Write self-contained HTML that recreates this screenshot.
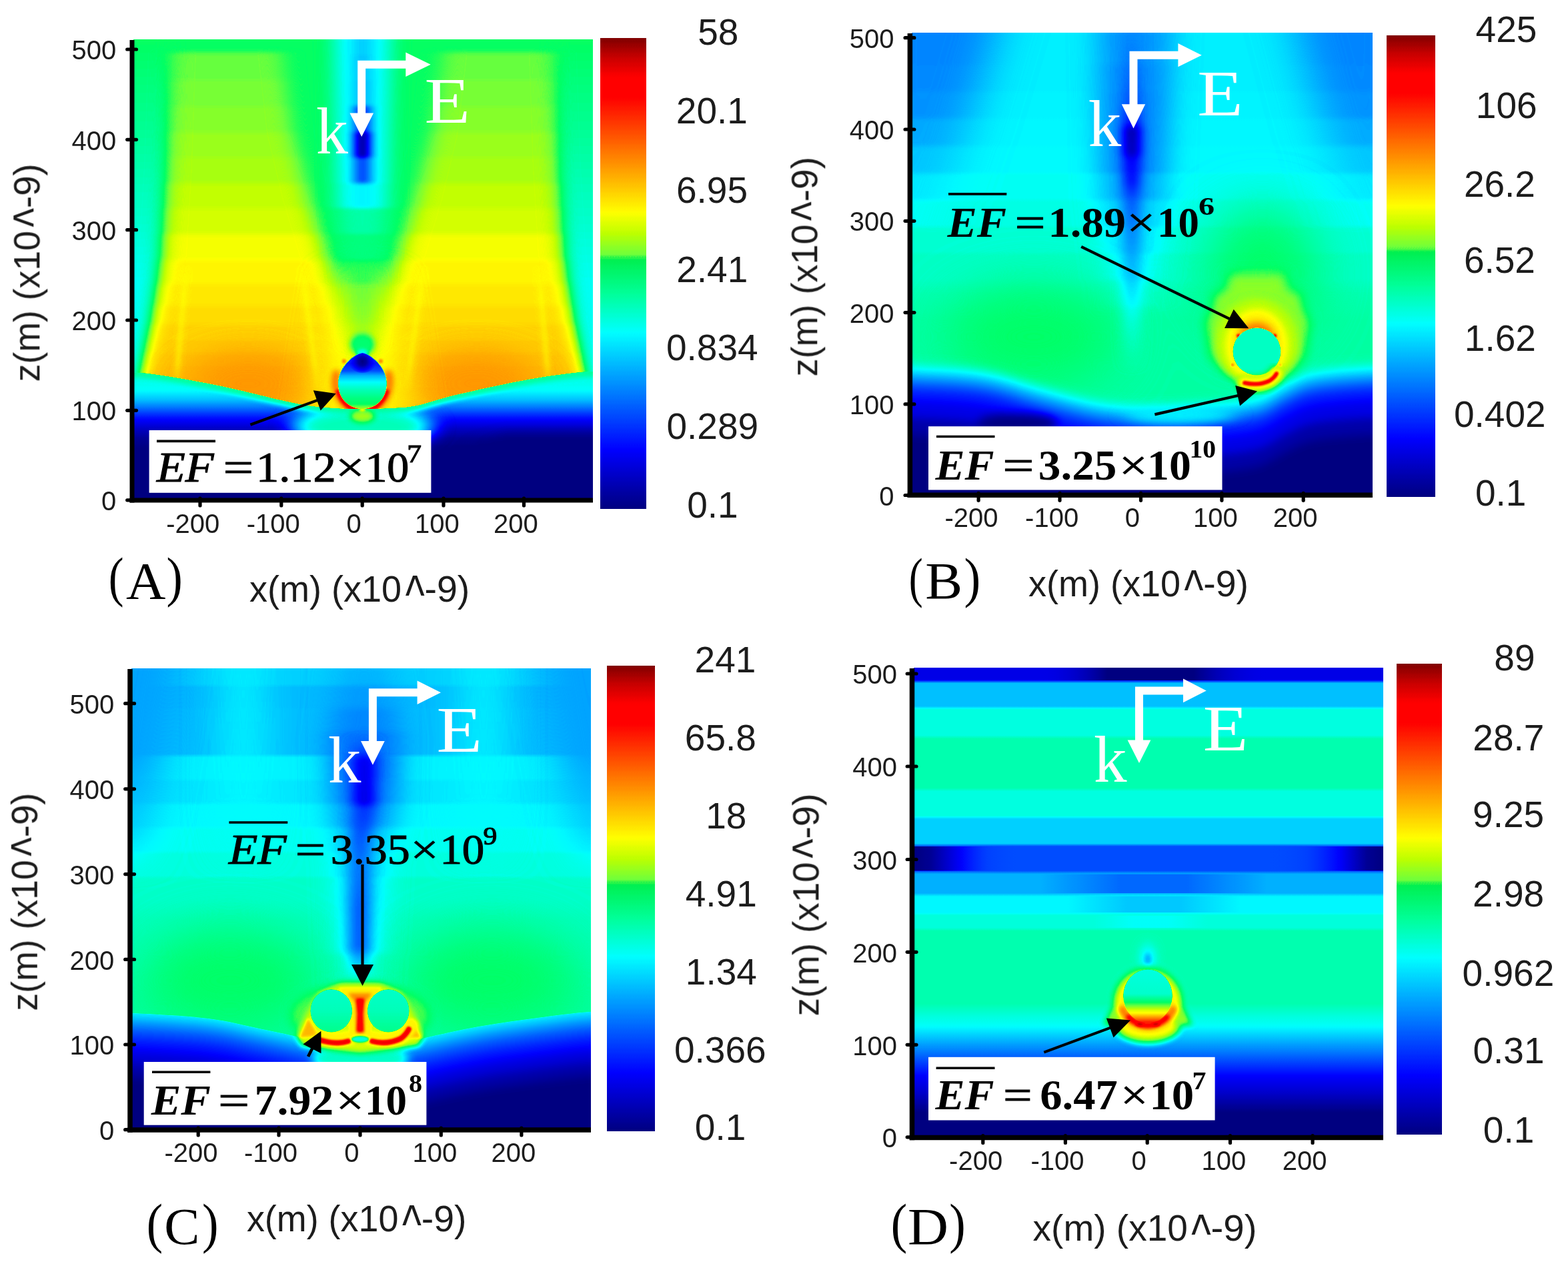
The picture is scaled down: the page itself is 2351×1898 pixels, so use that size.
<!DOCTYPE html>
<html lang="en"><head><meta charset="utf-8"><title>Electric field enhancement maps (A)-(D)</title>
<style>html,body{margin:0;padding:0;background:#fff;overflow:hidden}svg{display:block}</style></head><body>
<svg xmlns="http://www.w3.org/2000/svg" width="2351" height="1898" viewBox="0 0 2351 1898">
<defs>
<filter id="jetA" filterUnits="userSpaceOnUse" x="200.5" y="59" width="688.5" height="691.5" color-interpolation-filters="sRGB"><feComponentTransfer><feFuncR type="table" tableValues="0 0 0 0 0 0 0 0 0 0 0 0 0 0 0 0 0 0 0 0 0 0 0 0 0 0 0 0 0 0 0 0 0 0 0 0 0 0 0 0 0 0 0 0 0 0 0 0 0 0 0 0.108 0.216 0.324 0.431 0.501 0.571 0.641 0.71 0.773 0.83 0.887 0.943 1 1 1 1 1 1 1 1 1 1 1 1 1 1 1 1 1 1 1 1 1 1 1 1 1 1 1 1 1 0.99 0.938 0.887 0.836 0.784 0.714 0.643 0.573 0.502"/><feFuncG type="table" tableValues="0 0 0 0 0 0 0 0 0 0 0 0 0 0.02 0.06 0.1 0.141 0.181 0.221 0.261 0.301 0.341 0.381 0.422 0.462 0.502 0.542 0.582 0.621 0.661 0.701 0.741 0.781 0.821 0.861 0.9 0.94 0.98 1 1 1 1 1 1 1 1 1 1 1 1 1 1 1 1 1 1 1 1 1 1 1 1 1 1 0.958 0.917 0.875 0.834 0.792 0.751 0.709 0.668 0.626 0.585 0.543 0.502 0.462 0.422 0.381 0.341 0.301 0.261 0.221 0.181 0.141 0.1 0.06 0.02 0 0 0 0 0 0 0 0 0 0 0 0 0"/><feFuncB type="table" tableValues="0.502 0.542 0.582 0.621 0.661 0.701 0.741 0.781 0.821 0.861 0.9 0.94 0.98 1 1 1 1 1 1 1 1 1 1 1 1 1 1 1 1 1 1 1 1 1 1 1 1 1 0.976 0.927 0.879 0.83 0.782 0.734 0.685 0.637 0.588 0.539 0.49 0.441 0.392 0.353 0.314 0.275 0.235 0.183 0.131 0.078 0.026 0 0 0 0 0 0 0 0 0 0 0 0 0 0 0 0 0 0 0 0 0 0 0 0 0 0 0 0 0 0 0 0 0 0 0 0 0 0 0 0 0 0"/></feComponentTransfer></filter>
<clipPath id="clipA"><rect x="197.5" y="56" width="694.5" height="697.5"/></clipPath>
<linearGradient id="A0" gradientUnits="userSpaceOnUse" x1="0" y1="59" x2="0" y2="620"><stop offset="0" stop-color="#808080"/><stop offset="0.626" stop-color="#808080"/><stop offset="0.697" stop-color="#878787"/><stop offset="0.786" stop-color="#8f8f8f"/><stop offset="0.893" stop-color="#999999"/><stop offset="1" stop-color="#9e9e9e"/></linearGradient>
<linearGradient id="A1" gradientUnits="userSpaceOnUse" x1="0" y1="59" x2="0" y2="620"><stop offset="0" stop-color="#808080"/><stop offset="0.127" stop-color="#7a7a7a"/><stop offset="0.251" stop-color="#757575"/><stop offset="0.394" stop-color="#6e6e6e"/><stop offset="0.501" stop-color="#696969"/><stop offset="0.643" stop-color="#626262"/><stop offset="1" stop-color="#616161"/></linearGradient>
<filter id="b9_3" x="-100%" y="-100%" width="300%" height="300%" color-interpolation-filters="sRGB"><feGaussianBlur stdDeviation="9 3"/></filter>
<linearGradient id="A2" gradientUnits="userSpaceOnUse" x1="0" y1="61.5" x2="0" y2="637.5"><stop offset="0" stop-color="#888888"/><stop offset="0.031" stop-color="#888888"/><stop offset="0.04" stop-color="#898989"/><stop offset="0.097" stop-color="#898989"/><stop offset="0.106" stop-color="#8b8b8b"/><stop offset="0.165" stop-color="#8b8b8b"/><stop offset="0.174" stop-color="#8d8d8d"/><stop offset="0.233" stop-color="#8d8d8d"/><stop offset="0.241" stop-color="#909090"/><stop offset="0.299" stop-color="#909090"/><stop offset="0.307" stop-color="#929292"/><stop offset="0.366" stop-color="#929292"/><stop offset="0.375" stop-color="#969696"/><stop offset="0.431" stop-color="#969696"/><stop offset="0.439" stop-color="#999999"/><stop offset="0.498" stop-color="#999999"/><stop offset="0.507" stop-color="#9f9f9f"/><stop offset="0.566" stop-color="#9f9f9f"/><stop offset="0.575" stop-color="#a3a3a3"/><stop offset="0.628" stop-color="#a3a3a3"/><stop offset="0.637" stop-color="#a6a6a6"/><stop offset="0.684" stop-color="#a6a6a6"/><stop offset="0.693" stop-color="#a9a9a9"/><stop offset="0.733" stop-color="#a9a9a9"/><stop offset="0.741" stop-color="#acacac"/><stop offset="0.774" stop-color="#acacac"/><stop offset="0.783" stop-color="#adadad"/><stop offset="0.809" stop-color="#adadad"/><stop offset="0.818" stop-color="#afafaf"/><stop offset="0.84" stop-color="#afafaf"/><stop offset="0.849" stop-color="#b0b0b0"/><stop offset="0.868" stop-color="#b0b0b0"/><stop offset="0.877" stop-color="#b0b0b0"/><stop offset="0.896" stop-color="#b0b0b0"/><stop offset="0.905" stop-color="#b1b1b1"/><stop offset="0.931" stop-color="#b1b1b1"/><stop offset="0.939" stop-color="#b2b2b2"/><stop offset="1" stop-color="#b2b2b2"/></linearGradient>
<filter id="b15_3" x="-100%" y="-100%" width="300%" height="300%" color-interpolation-filters="sRGB"><feGaussianBlur stdDeviation="15 3"/></filter>
<filter id="b30_22" x="-100%" y="-100%" width="300%" height="300%" color-interpolation-filters="sRGB"><feGaussianBlur stdDeviation="30 22"/></filter>
<linearGradient id="A2v" gradientUnits="userSpaceOnUse" x1="0" y1="400" x2="0" y2="640"><stop offset="0" stop-color="#999999" stop-opacity="0.6"/><stop offset="0.417" stop-color="#9d9d9d" stop-opacity="0.8"/><stop offset="1" stop-color="#a1a1a1" stop-opacity="0.8"/></linearGradient>
<filter id="b24_14" x="-100%" y="-100%" width="300%" height="300%" color-interpolation-filters="sRGB"><feGaussianBlur stdDeviation="24 14"/></filter>
<linearGradient id="A2c" gradientUnits="userSpaceOnUse" x1="0" y1="380" x2="0" y2="530"><stop offset="0" stop-color="#828282" stop-opacity="0"/><stop offset="0.2" stop-color="#858585" stop-opacity="0.85"/><stop offset="0.667" stop-color="#8b8b8b" stop-opacity="0.85"/><stop offset="1" stop-color="#8f8f8f" stop-opacity="0"/></linearGradient>
<filter id="b13_6" x="-100%" y="-100%" width="300%" height="300%" color-interpolation-filters="sRGB"><feGaussianBlur stdDeviation="13 6"/></filter>
<linearGradient id="A2s" gradientUnits="userSpaceOnUse" x1="0" y1="400" x2="0" y2="585"><stop offset="0" stop-color="#9f9f9f" stop-opacity="0"/><stop offset="0.216" stop-color="#9f9f9f" stop-opacity="0.8"/><stop offset="0.784" stop-color="#a1a1a1" stop-opacity="0.8"/><stop offset="1" stop-color="#a1a1a1" stop-opacity="0"/></linearGradient>
<filter id="b3p5_2" x="-100%" y="-100%" width="300%" height="300%" color-interpolation-filters="sRGB"><feGaussianBlur stdDeviation="3.5 2"/></filter>
<linearGradient id="A3" gradientUnits="userSpaceOnUse" x1="0" y1="61.5" x2="0" y2="637.5"><stop offset="0" stop-color="#5d5d5d" stop-opacity="1"/><stop offset="0.031" stop-color="#5d5d5d" stop-opacity="1"/><stop offset="0.04" stop-color="#5d5d5d" stop-opacity="1"/><stop offset="0.097" stop-color="#5d5d5d" stop-opacity="1"/><stop offset="0.106" stop-color="#5d5d5d" stop-opacity="1"/><stop offset="0.165" stop-color="#5d5d5d" stop-opacity="1"/><stop offset="0.174" stop-color="#5d5d5d" stop-opacity="1"/><stop offset="0.233" stop-color="#5d5d5d" stop-opacity="1"/><stop offset="0.241" stop-color="#5d5d5d" stop-opacity="1"/><stop offset="0.299" stop-color="#5d5d5d" stop-opacity="1"/><stop offset="0.307" stop-color="#5d5d5d" stop-opacity="1"/><stop offset="0.366" stop-color="#5d5d5d" stop-opacity="1"/><stop offset="0.375" stop-color="#606060" stop-opacity="1"/><stop offset="0.431" stop-color="#606060" stop-opacity="1"/><stop offset="0.439" stop-color="#6f6f6f" stop-opacity="0.843"/><stop offset="0.498" stop-color="#6f6f6f" stop-opacity="0.843"/><stop offset="0.507" stop-color="#767676" stop-opacity="0.617"/><stop offset="0.566" stop-color="#767676" stop-opacity="0.617"/><stop offset="0.575" stop-color="#7b7b7b" stop-opacity="0.275"/><stop offset="0.628" stop-color="#7b7b7b" stop-opacity="0.275"/><stop offset="0.637" stop-color="#808080" stop-opacity="0"/><stop offset="0.684" stop-color="#808080" stop-opacity="0"/><stop offset="0.693" stop-color="#808080" stop-opacity="0"/><stop offset="0.733" stop-color="#808080" stop-opacity="0"/><stop offset="0.741" stop-color="#808080" stop-opacity="0"/><stop offset="0.774" stop-color="#808080" stop-opacity="0"/><stop offset="0.783" stop-color="#808080" stop-opacity="0"/><stop offset="0.809" stop-color="#808080" stop-opacity="0"/><stop offset="0.818" stop-color="#808080" stop-opacity="0"/><stop offset="0.84" stop-color="#808080" stop-opacity="0"/><stop offset="0.849" stop-color="#808080" stop-opacity="0"/><stop offset="0.868" stop-color="#808080" stop-opacity="0"/><stop offset="0.877" stop-color="#808080" stop-opacity="0"/><stop offset="0.896" stop-color="#808080" stop-opacity="0"/><stop offset="0.905" stop-color="#808080" stop-opacity="0"/><stop offset="0.931" stop-color="#808080" stop-opacity="0"/><stop offset="0.939" stop-color="#808080" stop-opacity="0"/><stop offset="1" stop-color="#808080" stop-opacity="0"/></linearGradient>
<filter id="b14_2" x="-100%" y="-100%" width="300%" height="300%" color-interpolation-filters="sRGB"><feGaussianBlur stdDeviation="14 2"/></filter>
<linearGradient id="A4" gradientUnits="userSpaceOnUse" x1="0" y1="62" x2="0" y2="348"><stop offset="0" stop-color="#535353" stop-opacity="1"/><stop offset="0.059" stop-color="#535353" stop-opacity="1"/><stop offset="0.08" stop-color="#505050" stop-opacity="1"/><stop offset="0.192" stop-color="#505050" stop-opacity="1"/><stop offset="0.213" stop-color="#4d4d4d" stop-opacity="1"/><stop offset="0.329" stop-color="#4d4d4d" stop-opacity="1"/><stop offset="0.35" stop-color="#242424" stop-opacity="1"/><stop offset="0.465" stop-color="#242424" stop-opacity="1"/><stop offset="0.486" stop-color="#000000" stop-opacity="1"/><stop offset="0.598" stop-color="#000000" stop-opacity="1"/><stop offset="0.619" stop-color="#2e2e2e" stop-opacity="1"/><stop offset="0.734" stop-color="#2e2e2e" stop-opacity="1"/><stop offset="0.755" stop-color="#5d5d5d" stop-opacity="0.839"/><stop offset="0.864" stop-color="#5d5d5d" stop-opacity="0.839"/><stop offset="0.885" stop-color="#707070" stop-opacity="0"/><stop offset="1" stop-color="#707070" stop-opacity="0"/></linearGradient>
<filter id="b8_2" x="-100%" y="-100%" width="300%" height="300%" color-interpolation-filters="sRGB"><feGaussianBlur stdDeviation="8 2"/></filter>
<filter id="b4p5_4p5" x="-100%" y="-100%" width="300%" height="300%" color-interpolation-filters="sRGB"><feGaussianBlur stdDeviation="4.5 4.5"/></filter>
<filter id="b2p2_2p2" x="-100%" y="-100%" width="300%" height="300%" color-interpolation-filters="sRGB"><feGaussianBlur stdDeviation="2.2 2.2"/></filter>
<filter id="b1p8_1p8" x="-100%" y="-100%" width="300%" height="300%" color-interpolation-filters="sRGB"><feGaussianBlur stdDeviation="1.8 1.8"/></filter>
<clipPath id="cAs"><path d="M150,559 C161.3,559.1 188.8,556.7 218,559.8 C247.2,562.9 290.8,570.9 325,577.7 C359.2,584.5 400,595.4 423,600.5 C446,605.6 450.2,606.6 463,608.6 C475.8,610.6 486.6,611.5 500,612.3 C513.4,613.1 528.9,613.4 543.4,613.4 C557.9,613.4 573.6,613.1 587,612.3 C600.4,611.5 607.9,611.9 624,608.6 C640.1,605.3 657.2,598.5 683.4,592.3 C709.6,586.1 749.6,576.9 781,571.2 C812.4,565.5 845.5,560.5 872,558.1 C898.5,555.7 928.7,557.2 940,557 L940,800 L150,800 Z"/></clipPath>
<linearGradient id="A7" gradientUnits="userSpaceOnUse" x1="0" y1="555" x2="0" y2="800"><stop offset="0" stop-color="#696969"/><stop offset="0.122" stop-color="#606060"/><stop offset="0.184" stop-color="#4f4f4f"/><stop offset="0.233" stop-color="#3b3b3b"/><stop offset="0.29" stop-color="#242424"/><stop offset="0.355" stop-color="#121212"/><stop offset="0.42" stop-color="#050505"/><stop offset="0.478" stop-color="#000000"/><stop offset="1" stop-color="#000000"/></linearGradient>
<filter id="b16_10" x="-100%" y="-100%" width="300%" height="300%" color-interpolation-filters="sRGB"><feGaussianBlur stdDeviation="16 10"/></filter>
<filter id="b3p5_3p5" x="-100%" y="-100%" width="300%" height="300%" color-interpolation-filters="sRGB"><feGaussianBlur stdDeviation="3.5 3.5"/></filter>
<filter id="b9_9" x="-100%" y="-100%" width="300%" height="300%" color-interpolation-filters="sRGB"><feGaussianBlur stdDeviation="9 9"/></filter>
<filter id="b4_4" x="-100%" y="-100%" width="300%" height="300%" color-interpolation-filters="sRGB"><feGaussianBlur stdDeviation="4 4"/></filter>
<filter id="b1p5_1p5" x="-100%" y="-100%" width="300%" height="300%" color-interpolation-filters="sRGB"><feGaussianBlur stdDeviation="1.5 1.5"/></filter>
<filter id="b2p5_2p5" x="-100%" y="-100%" width="300%" height="300%" color-interpolation-filters="sRGB"><feGaussianBlur stdDeviation="2.5 2.5"/></filter>
<linearGradient id="A5" gradientUnits="userSpaceOnUse" x1="0" y1="530" x2="0" y2="611"><stop offset="0" stop-color="#333333"/><stop offset="0.185" stop-color="#262626"/><stop offset="0.321" stop-color="#333333"/><stop offset="0.407" stop-color="#4c4c4c"/><stop offset="0.531" stop-color="#606060"/><stop offset="0.667" stop-color="#6e6e6e"/><stop offset="0.827" stop-color="#7a7a7a"/><stop offset="0.938" stop-color="#808080"/><stop offset="1" stop-color="#8c8c8c"/></linearGradient>
<radialGradient id="A6" gradientUnits="userSpaceOnUse" cx="543.4" cy="542" r="21"><stop offset="0" stop-color="#000000" stop-opacity="1"/><stop offset="0.3" stop-color="#050505" stop-opacity="0.9"/><stop offset="1" stop-color="#1a1a1a" stop-opacity="0"/></radialGradient>
<clipPath id="cAegg"><path d="M543.4,529.3 C556.4,531 579.8,551 579.8,575 C579.8,597 564.4,612.8 543.4,612.8 C522.4,612.8 507,597 507,575 C507,551 530.4,531 543.4,529.3 Z"/></clipPath>
<linearGradient id="cbgA" gradientUnits="userSpaceOnUse" x1="0" y1="57.6" x2="0" y2="762.7"><stop offset="0" stop-color="#ffffff"/><stop offset="1" stop-color="#000000"/></linearGradient>
<filter id="jetcbA" filterUnits="userSpaceOnUse" x="900.7" y="57.6" width="68.3" height="705.1" color-interpolation-filters="sRGB"><feComponentTransfer><feFuncR type="table" tableValues="0 0 0 0 0 0 0 0 0 0 0 0 0 0 0 0 0 0 0 0 0 0 0 0 0 0 0 0 0 0 0 0 0 0 0 0 0 0 0 0 0 0 0 0 0 0 0 0 0 0 0 0 0 0 0 0 0 0 0 0 0 0 0 0 0 0 0 0 0 0 0 0 0 0 0 0 0 0 0 0 0 0 0 0 0 0 0 0 0 0 0 0 0 0 0 0 0 0 0 0 0 0 0 0 0 0 0 0.216 0.431 0.466 0.501 0.536 0.571 0.606 0.641 0.675 0.71 0.745 0.773 0.802 0.83 0.858 0.887 0.915 0.943 0.972 1 1 1 1 1 1 1 1 1 1 1 1 1 1 1 1 1 1 1 1 1 1 1 1 1 1 1 1 1 1 1 1 1 1 1 1 1 1 1 1 1 1 1 1 1 1 1 1 1 1 1 1 1 1 1 1 1 1 0.99 0.964 0.938 0.913 0.887 0.861 0.836 0.81 0.784 0.749 0.714 0.678 0.643 0.608 0.573 0.537 0.502"/><feFuncG type="table" tableValues="0 0 0 0 0 0 0 0 0 0 0 0 0 0 0 0 0 0 0 0 0 0 0 0 0 0 0.02 0.04 0.06 0.08 0.1 0.12 0.141 0.161 0.181 0.201 0.221 0.241 0.261 0.281 0.301 0.321 0.341 0.361 0.381 0.402 0.422 0.442 0.462 0.482 0.502 0.522 0.542 0.562 0.582 0.602 0.621 0.641 0.661 0.681 0.701 0.721 0.741 0.761 0.781 0.801 0.821 0.841 0.861 0.88 0.9 0.92 0.94 0.96 0.98 1 1 1 1 1 1 1 1 1 1 1 1 1 1 1 1 1 1 0.996 0.992 0.987 0.983 0.979 0.975 0.971 0.966 0.962 0.958 0.954 0.95 0.945 0.941 0.971 1 1 1 1 1 1 1 1 1 1 1 1 1 1 1 1 1 1 1 0.979 0.958 0.938 0.917 0.896 0.875 0.855 0.834 0.813 0.792 0.772 0.751 0.73 0.709 0.689 0.668 0.647 0.626 0.606 0.585 0.564 0.543 0.523 0.502 0.482 0.462 0.442 0.422 0.402 0.381 0.361 0.341 0.321 0.301 0.281 0.261 0.241 0.221 0.201 0.181 0.161 0.141 0.12 0.1 0.08 0.06 0.04 0.02 0 0 0 0 0 0 0 0 0 0 0 0 0 0 0 0 0 0 0 0 0 0 0 0 0 0"/><feFuncB type="table" tableValues="0.502 0.522 0.542 0.562 0.582 0.602 0.621 0.641 0.661 0.681 0.701 0.721 0.741 0.761 0.781 0.801 0.821 0.841 0.861 0.88 0.9 0.92 0.94 0.96 0.98 1 1 1 1 1 1 1 1 1 1 1 1 1 1 1 1 1 1 1 1 1 1 1 1 1 1 1 1 1 1 1 1 1 1 1 1 1 1 1 1 1 1 1 1 1 1 1 1 1 1 1 0.976 0.952 0.927 0.903 0.879 0.855 0.83 0.806 0.782 0.758 0.734 0.709 0.685 0.661 0.637 0.612 0.588 0.569 0.549 0.529 0.51 0.49 0.471 0.451 0.431 0.412 0.392 0.373 0.353 0.333 0.314 0.275 0.235 0.209 0.183 0.157 0.131 0.105 0.078 0.052 0.026 0 0 0 0 0 0 0 0 0 0 0 0 0 0 0 0 0 0 0 0 0 0 0 0 0 0 0 0 0 0 0 0 0 0 0 0 0 0 0 0 0 0 0 0 0 0 0 0 0 0 0 0 0 0 0 0 0 0 0 0 0 0 0 0 0 0 0 0 0 0 0 0 0 0 0 0 0 0 0 0 0 0 0 0"/></feComponentTransfer></filter>
<filter id="jetB" filterUnits="userSpaceOnUse" x="1367.5" y="49" width="690.5" height="694" color-interpolation-filters="sRGB"><feComponentTransfer><feFuncR type="table" tableValues="0 0 0 0 0 0 0 0 0 0 0 0 0 0 0 0 0 0 0 0 0 0 0 0 0 0 0 0 0 0 0 0 0 0 0 0 0 0 0 0 0 0 0 0 0 0 0 0 0 0 0 0.108 0.216 0.324 0.431 0.501 0.571 0.641 0.71 0.773 0.83 0.887 0.943 1 1 1 1 1 1 1 1 1 1 1 1 1 1 1 1 1 1 1 1 1 1 1 1 1 1 1 1 1 0.99 0.938 0.887 0.836 0.784 0.714 0.643 0.573 0.502"/><feFuncG type="table" tableValues="0 0 0 0 0 0 0 0 0 0 0 0 0 0.02 0.06 0.1 0.141 0.181 0.221 0.261 0.301 0.341 0.381 0.422 0.462 0.502 0.542 0.582 0.621 0.661 0.701 0.741 0.781 0.821 0.861 0.9 0.94 0.98 1 1 1 1 1 1 1 1 1 1 1 1 1 1 1 1 1 1 1 1 1 1 1 1 1 1 0.958 0.917 0.875 0.834 0.792 0.751 0.709 0.668 0.626 0.585 0.543 0.502 0.462 0.422 0.381 0.341 0.301 0.261 0.221 0.181 0.141 0.1 0.06 0.02 0 0 0 0 0 0 0 0 0 0 0 0 0"/><feFuncB type="table" tableValues="0.502 0.542 0.582 0.621 0.661 0.701 0.741 0.781 0.821 0.861 0.9 0.94 0.98 1 1 1 1 1 1 1 1 1 1 1 1 1 1 1 1 1 1 1 1 1 1 1 1 1 0.976 0.927 0.879 0.83 0.782 0.734 0.685 0.637 0.588 0.539 0.49 0.441 0.392 0.353 0.314 0.275 0.235 0.183 0.131 0.078 0.026 0 0 0 0 0 0 0 0 0 0 0 0 0 0 0 0 0 0 0 0 0 0 0 0 0 0 0 0 0 0 0 0 0 0 0 0 0 0 0 0 0 0"/></feComponentTransfer></filter>
<clipPath id="clipB"><rect x="1364.5" y="46" width="696.5" height="700"/></clipPath>
<linearGradient id="B0" gradientUnits="userSpaceOnUse" x1="0" y1="52" x2="0" y2="760"><stop offset="0" stop-color="#5c5c5c"/><stop offset="0.059" stop-color="#5c5c5c"/><stop offset="0.068" stop-color="#5c5c5c"/><stop offset="0.116" stop-color="#5c5c5c"/><stop offset="0.124" stop-color="#5d5d5d"/><stop offset="0.174" stop-color="#5d5d5d"/><stop offset="0.182" stop-color="#5e5e5e"/><stop offset="0.232" stop-color="#5e5e5e"/><stop offset="0.24" stop-color="#5f5f5f"/><stop offset="0.29" stop-color="#5f5f5f"/><stop offset="0.298" stop-color="#626262"/><stop offset="0.346" stop-color="#626262"/><stop offset="0.355" stop-color="#656565"/><stop offset="0.403" stop-color="#656565"/><stop offset="0.411" stop-color="#696969"/><stop offset="0.459" stop-color="#696969"/><stop offset="0.468" stop-color="#6c6c6c"/><stop offset="0.516" stop-color="#6c6c6c"/><stop offset="0.548" stop-color="#707070"/><stop offset="0.605" stop-color="#737373"/><stop offset="1" stop-color="#737373"/></linearGradient>
<linearGradient id="B1" gradientUnits="userSpaceOnUse" x1="0" y1="23" x2="0" y2="377"><stop offset="0" stop-color="#404040" stop-opacity="1"/><stop offset="0.065" stop-color="#404040" stop-opacity="1"/><stop offset="0.082" stop-color="#414141" stop-opacity="1"/><stop offset="0.201" stop-color="#414141" stop-opacity="1"/><stop offset="0.218" stop-color="#424242" stop-opacity="1"/><stop offset="0.314" stop-color="#424242" stop-opacity="1"/><stop offset="0.331" stop-color="#444444" stop-opacity="0.967"/><stop offset="0.429" stop-color="#444444" stop-opacity="0.967"/><stop offset="0.446" stop-color="#484848" stop-opacity="0.89"/><stop offset="0.545" stop-color="#484848" stop-opacity="0.89"/><stop offset="0.562" stop-color="#4d4d4d" stop-opacity="0.752"/><stop offset="0.661" stop-color="#4d4d4d" stop-opacity="0.752"/><stop offset="0.678" stop-color="#535353" stop-opacity="0.55"/><stop offset="0.774" stop-color="#535353" stop-opacity="0.55"/><stop offset="0.791" stop-color="#585858" stop-opacity="0.25"/><stop offset="0.887" stop-color="#585858" stop-opacity="0.25"/><stop offset="0.904" stop-color="#5c5c5c" stop-opacity="0"/><stop offset="1" stop-color="#5c5c5c" stop-opacity="0"/></linearGradient>
<filter id="b34_3" x="-100%" y="-100%" width="300%" height="300%" color-interpolation-filters="sRGB"><feGaussianBlur stdDeviation="34 3"/></filter>
<linearGradient id="B1c" gradientUnits="userSpaceOnUse" x1="0" y1="23" x2="0" y2="497"><stop offset="0" stop-color="#454545" stop-opacity="0.904"/><stop offset="0.049" stop-color="#454545" stop-opacity="0.904"/><stop offset="0.061" stop-color="#444444" stop-opacity="0.939"/><stop offset="0.15" stop-color="#444444" stop-opacity="0.939"/><stop offset="0.162" stop-color="#434343" stop-opacity="0.979"/><stop offset="0.234" stop-color="#434343" stop-opacity="0.979"/><stop offset="0.247" stop-color="#424242" stop-opacity="1"/><stop offset="0.321" stop-color="#424242" stop-opacity="1"/><stop offset="0.333" stop-color="#424242" stop-opacity="1"/><stop offset="0.407" stop-color="#424242" stop-opacity="1"/><stop offset="0.42" stop-color="#424242" stop-opacity="1"/><stop offset="0.494" stop-color="#424242" stop-opacity="1"/><stop offset="0.506" stop-color="#484848" stop-opacity="0.94"/><stop offset="0.578" stop-color="#484848" stop-opacity="0.94"/><stop offset="0.591" stop-color="#4f4f4f" stop-opacity="0.84"/><stop offset="0.662" stop-color="#4f4f4f" stop-opacity="0.84"/><stop offset="0.675" stop-color="#535353" stop-opacity="0.72"/><stop offset="0.747" stop-color="#535353" stop-opacity="0.72"/><stop offset="0.759" stop-color="#575757" stop-opacity="0.6"/><stop offset="0.831" stop-color="#575757" stop-opacity="0.6"/><stop offset="0.844" stop-color="#5c5c5c" stop-opacity="0.3"/><stop offset="0.916" stop-color="#5c5c5c" stop-opacity="0.3"/><stop offset="0.928" stop-color="#616161" stop-opacity="0"/><stop offset="1" stop-color="#616161" stop-opacity="0"/></linearGradient>
<filter id="b20_3" x="-100%" y="-100%" width="300%" height="300%" color-interpolation-filters="sRGB"><feGaussianBlur stdDeviation="20 3"/></filter>
<filter id="b38_38" x="-100%" y="-100%" width="300%" height="300%" color-interpolation-filters="sRGB"><feGaussianBlur stdDeviation="38 38"/></filter>
<linearGradient id="B2" gradientUnits="userSpaceOnUse" x1="0" y1="40" x2="0" y2="560"><stop offset="0" stop-color="#404040" stop-opacity="0.5"/><stop offset="0.212" stop-color="#333333" stop-opacity="1"/><stop offset="0.275" stop-color="#1f1f1f" stop-opacity="1"/><stop offset="0.3" stop-color="#050505" stop-opacity="1"/><stop offset="0.362" stop-color="#080808" stop-opacity="1"/><stop offset="0.385" stop-color="#1a1a1a" stop-opacity="1"/><stop offset="0.446" stop-color="#1f1f1f" stop-opacity="1"/><stop offset="0.5" stop-color="#333333" stop-opacity="1"/><stop offset="0.712" stop-color="#4c4c4c" stop-opacity="0.9"/><stop offset="1" stop-color="#616161" stop-opacity="0"/></linearGradient>
<filter id="b7_7" x="-100%" y="-100%" width="300%" height="300%" color-interpolation-filters="sRGB"><feGaussianBlur stdDeviation="7 7"/></filter>
<filter id="b14_7" x="-100%" y="-100%" width="300%" height="300%" color-interpolation-filters="sRGB"><feGaussianBlur stdDeviation="14 7"/></filter>
<filter id="b8p5_8p5" x="-100%" y="-100%" width="300%" height="300%" color-interpolation-filters="sRGB"><feGaussianBlur stdDeviation="8.5 8.5"/></filter>
<filter id="b6_6" x="-100%" y="-100%" width="300%" height="300%" color-interpolation-filters="sRGB"><feGaussianBlur stdDeviation="6 6"/></filter>
<filter id="b5_5" x="-100%" y="-100%" width="300%" height="300%" color-interpolation-filters="sRGB"><feGaussianBlur stdDeviation="5 5"/></filter>
<filter id="b1p6_1p6" x="-100%" y="-100%" width="300%" height="300%" color-interpolation-filters="sRGB"><feGaussianBlur stdDeviation="1.6 1.6"/></filter>
<filter id="b3_3" x="-100%" y="-100%" width="300%" height="300%" color-interpolation-filters="sRGB"><feGaussianBlur stdDeviation="3 3"/></filter>
<filter id="b1p7_1p7" x="-100%" y="-100%" width="300%" height="300%" color-interpolation-filters="sRGB"><feGaussianBlur stdDeviation="1.7 1.7"/></filter>
<linearGradient id="cbgB" gradientUnits="userSpaceOnUse" x1="0" y1="53" x2="0" y2="744.2"><stop offset="0" stop-color="#ffffff"/><stop offset="1" stop-color="#000000"/></linearGradient>
<filter id="jetcbB" filterUnits="userSpaceOnUse" x="2079" y="53" width="72.7" height="691.2" color-interpolation-filters="sRGB"><feComponentTransfer><feFuncR type="table" tableValues="0 0 0 0 0 0 0 0 0 0 0 0 0 0 0 0 0 0 0 0 0 0 0 0 0 0 0 0 0 0 0 0 0 0 0 0 0 0 0 0 0 0 0 0 0 0 0 0 0 0 0 0 0 0 0 0 0 0 0 0 0 0 0 0 0 0 0 0 0 0 0 0 0 0 0 0 0 0 0 0 0 0 0 0 0 0 0 0 0 0 0 0 0 0 0 0 0 0 0 0 0 0 0 0 0 0 0 0.216 0.431 0.466 0.501 0.536 0.571 0.606 0.641 0.675 0.71 0.745 0.773 0.802 0.83 0.858 0.887 0.915 0.943 0.972 1 1 1 1 1 1 1 1 1 1 1 1 1 1 1 1 1 1 1 1 1 1 1 1 1 1 1 1 1 1 1 1 1 1 1 1 1 1 1 1 1 1 1 1 1 1 1 1 1 1 1 1 1 1 1 1 1 1 0.99 0.964 0.938 0.913 0.887 0.861 0.836 0.81 0.784 0.749 0.714 0.678 0.643 0.608 0.573 0.537 0.502"/><feFuncG type="table" tableValues="0 0 0 0 0 0 0 0 0 0 0 0 0 0 0 0 0 0 0 0 0 0 0 0 0 0 0.02 0.04 0.06 0.08 0.1 0.12 0.141 0.161 0.181 0.201 0.221 0.241 0.261 0.281 0.301 0.321 0.341 0.361 0.381 0.402 0.422 0.442 0.462 0.482 0.502 0.522 0.542 0.562 0.582 0.602 0.621 0.641 0.661 0.681 0.701 0.721 0.741 0.761 0.781 0.801 0.821 0.841 0.861 0.88 0.9 0.92 0.94 0.96 0.98 1 1 1 1 1 1 1 1 1 1 1 1 1 1 1 1 1 1 0.996 0.992 0.987 0.983 0.979 0.975 0.971 0.966 0.962 0.958 0.954 0.95 0.945 0.941 0.971 1 1 1 1 1 1 1 1 1 1 1 1 1 1 1 1 1 1 1 0.979 0.958 0.938 0.917 0.896 0.875 0.855 0.834 0.813 0.792 0.772 0.751 0.73 0.709 0.689 0.668 0.647 0.626 0.606 0.585 0.564 0.543 0.523 0.502 0.482 0.462 0.442 0.422 0.402 0.381 0.361 0.341 0.321 0.301 0.281 0.261 0.241 0.221 0.201 0.181 0.161 0.141 0.12 0.1 0.08 0.06 0.04 0.02 0 0 0 0 0 0 0 0 0 0 0 0 0 0 0 0 0 0 0 0 0 0 0 0 0 0"/><feFuncB type="table" tableValues="0.502 0.522 0.542 0.562 0.582 0.602 0.621 0.641 0.661 0.681 0.701 0.721 0.741 0.761 0.781 0.801 0.821 0.841 0.861 0.88 0.9 0.92 0.94 0.96 0.98 1 1 1 1 1 1 1 1 1 1 1 1 1 1 1 1 1 1 1 1 1 1 1 1 1 1 1 1 1 1 1 1 1 1 1 1 1 1 1 1 1 1 1 1 1 1 1 1 1 1 1 0.976 0.952 0.927 0.903 0.879 0.855 0.83 0.806 0.782 0.758 0.734 0.709 0.685 0.661 0.637 0.612 0.588 0.569 0.549 0.529 0.51 0.49 0.471 0.451 0.431 0.412 0.392 0.373 0.353 0.333 0.314 0.275 0.235 0.209 0.183 0.157 0.131 0.105 0.078 0.052 0.026 0 0 0 0 0 0 0 0 0 0 0 0 0 0 0 0 0 0 0 0 0 0 0 0 0 0 0 0 0 0 0 0 0 0 0 0 0 0 0 0 0 0 0 0 0 0 0 0 0 0 0 0 0 0 0 0 0 0 0 0 0 0 0 0 0 0 0 0 0 0 0 0 0 0 0 0 0 0 0 0 0 0 0 0"/></feComponentTransfer></filter>
<filter id="jetC" filterUnits="userSpaceOnUse" x="197.5" y="1002" width="688.5" height="692.5" color-interpolation-filters="sRGB"><feComponentTransfer><feFuncR type="table" tableValues="0 0 0 0 0 0 0 0 0 0 0 0 0 0 0 0 0 0 0 0 0 0 0 0 0 0 0 0 0 0 0 0 0 0 0 0 0 0 0 0 0 0 0 0 0 0 0 0 0 0 0 0.108 0.216 0.324 0.431 0.501 0.571 0.641 0.71 0.773 0.83 0.887 0.943 1 1 1 1 1 1 1 1 1 1 1 1 1 1 1 1 1 1 1 1 1 1 1 1 1 1 1 1 1 0.99 0.938 0.887 0.836 0.784 0.714 0.643 0.573 0.502"/><feFuncG type="table" tableValues="0 0 0 0 0 0 0 0 0 0 0 0 0 0.02 0.06 0.1 0.141 0.181 0.221 0.261 0.301 0.341 0.381 0.422 0.462 0.502 0.542 0.582 0.621 0.661 0.701 0.741 0.781 0.821 0.861 0.9 0.94 0.98 1 1 1 1 1 1 1 1 1 1 1 1 1 1 1 1 1 1 1 1 1 1 1 1 1 1 0.958 0.917 0.875 0.834 0.792 0.751 0.709 0.668 0.626 0.585 0.543 0.502 0.462 0.422 0.381 0.341 0.301 0.261 0.221 0.181 0.141 0.1 0.06 0.02 0 0 0 0 0 0 0 0 0 0 0 0 0"/><feFuncB type="table" tableValues="0.502 0.542 0.582 0.621 0.661 0.701 0.741 0.781 0.821 0.861 0.9 0.94 0.98 1 1 1 1 1 1 1 1 1 1 1 1 1 1 1 1 1 1 1 1 1 1 1 1 1 0.976 0.927 0.879 0.83 0.782 0.734 0.685 0.637 0.588 0.539 0.49 0.441 0.392 0.353 0.314 0.275 0.235 0.183 0.131 0.078 0.026 0 0 0 0 0 0 0 0 0 0 0 0 0 0 0 0 0 0 0 0 0 0 0 0 0 0 0 0 0 0 0 0 0 0 0 0 0 0 0 0 0 0"/></feComponentTransfer></filter>
<clipPath id="clipC"><rect x="194.5" y="999" width="694.5" height="698.5"/></clipPath>
<linearGradient id="C0" gradientUnits="userSpaceOnUse" x1="0" y1="1005" x2="0" y2="1700"><stop offset="0" stop-color="#545454"/><stop offset="0.029" stop-color="#545454"/><stop offset="0.037" stop-color="#4f4f4f"/><stop offset="0.078" stop-color="#4f4f4f"/><stop offset="0.086" stop-color="#505050"/><stop offset="0.128" stop-color="#505050"/><stop offset="0.137" stop-color="#505050"/><stop offset="0.18" stop-color="#505050"/><stop offset="0.188" stop-color="#5d5d5d"/><stop offset="0.232" stop-color="#5d5d5d"/><stop offset="0.24" stop-color="#5a5a5a"/><stop offset="0.283" stop-color="#5a5a5a"/><stop offset="0.292" stop-color="#5f5f5f"/><stop offset="0.335" stop-color="#5f5f5f"/><stop offset="0.344" stop-color="#636363"/><stop offset="0.388" stop-color="#636363"/><stop offset="0.397" stop-color="#676767"/><stop offset="0.442" stop-color="#676767"/><stop offset="0.45" stop-color="#6b6b6b"/><stop offset="0.495" stop-color="#6b6b6b"/><stop offset="0.54" stop-color="#6e6e6e"/><stop offset="0.626" stop-color="#707070"/><stop offset="0.712" stop-color="#737373"/><stop offset="1" stop-color="#757575"/></linearGradient>
<linearGradient id="C1d" gradientUnits="userSpaceOnUse" x1="0" y1="990" x2="0" y2="1330"><stop offset="0" stop-color="#494949" stop-opacity="1"/><stop offset="0.412" stop-color="#494949" stop-opacity="1"/><stop offset="0.765" stop-color="#4f4f4f" stop-opacity="0.7"/><stop offset="1" stop-color="#5c5c5c" stop-opacity="0"/></linearGradient>
<filter id="b28_4" x="-100%" y="-100%" width="300%" height="300%" color-interpolation-filters="sRGB"><feGaussianBlur stdDeviation="28 4"/></filter>
<linearGradient id="C1" gradientUnits="userSpaceOnUse" x1="0" y1="990" x2="0" y2="1320"><stop offset="0" stop-color="#5d5d5d" stop-opacity="1"/><stop offset="0.636" stop-color="#606060" stop-opacity="0.9"/><stop offset="1" stop-color="#636363" stop-opacity="0"/></linearGradient>
<filter id="b28_5" x="-100%" y="-100%" width="300%" height="300%" color-interpolation-filters="sRGB"><feGaussianBlur stdDeviation="28 5"/></filter>
<filter id="b36_36" x="-100%" y="-100%" width="300%" height="300%" color-interpolation-filters="sRGB"><feGaussianBlur stdDeviation="36 36"/></filter>
<linearGradient id="C2h" gradientUnits="userSpaceOnUse" x1="0" y1="1005" x2="0" y2="1477"><stop offset="0" stop-color="#484848" stop-opacity="0.575"/><stop offset="0.042" stop-color="#484848" stop-opacity="0.575"/><stop offset="0.055" stop-color="#444444" stop-opacity="0.725"/><stop offset="0.114" stop-color="#444444" stop-opacity="0.725"/><stop offset="0.127" stop-color="#404040" stop-opacity="0.897"/><stop offset="0.189" stop-color="#404040" stop-opacity="0.897"/><stop offset="0.201" stop-color="#3c3c3c" stop-opacity="1"/><stop offset="0.265" stop-color="#3c3c3c" stop-opacity="1"/><stop offset="0.278" stop-color="#383838" stop-opacity="1"/><stop offset="0.341" stop-color="#383838" stop-opacity="1"/><stop offset="0.354" stop-color="#3b3b3b" stop-opacity="1"/><stop offset="0.417" stop-color="#3b3b3b" stop-opacity="1"/><stop offset="0.43" stop-color="#414141" stop-opacity="0.951"/><stop offset="0.494" stop-color="#414141" stop-opacity="0.951"/><stop offset="0.506" stop-color="#4a4a4a" stop-opacity="0.844"/><stop offset="0.572" stop-color="#4a4a4a" stop-opacity="0.844"/><stop offset="0.585" stop-color="#4b4b4b" stop-opacity="0.821"/><stop offset="0.65" stop-color="#4b4b4b" stop-opacity="0.821"/><stop offset="0.663" stop-color="#4d4d4d" stop-opacity="0.8"/><stop offset="0.729" stop-color="#4d4d4d" stop-opacity="0.8"/><stop offset="0.742" stop-color="#4e4e4e" stop-opacity="0.8"/><stop offset="0.809" stop-color="#4e4e4e" stop-opacity="0.8"/><stop offset="0.822" stop-color="#4f4f4f" stop-opacity="0.8"/><stop offset="0.894" stop-color="#4f4f4f" stop-opacity="0.8"/><stop offset="0.907" stop-color="#5e5e5e" stop-opacity="0.417"/><stop offset="1" stop-color="#5e5e5e" stop-opacity="0.417"/></linearGradient>
<filter id="b22_4" x="-100%" y="-100%" width="300%" height="300%" color-interpolation-filters="sRGB"><feGaussianBlur stdDeviation="22 4"/></filter>
<linearGradient id="C2" gradientUnits="userSpaceOnUse" x1="0" y1="1100" x2="0" y2="1480"><stop offset="0" stop-color="#3d3d3d" stop-opacity="0"/><stop offset="0.074" stop-color="#2e2e2e" stop-opacity="1"/><stop offset="0.105" stop-color="#1a1a1a" stop-opacity="1"/><stop offset="0.271" stop-color="#171717" stop-opacity="1"/><stop offset="0.295" stop-color="#2b2b2b" stop-opacity="1"/><stop offset="0.368" stop-color="#303030" stop-opacity="1"/><stop offset="0.526" stop-color="#3b3b3b" stop-opacity="1"/><stop offset="0.684" stop-color="#333333" stop-opacity="1"/><stop offset="0.842" stop-color="#333333" stop-opacity="1"/><stop offset="0.908" stop-color="#474747" stop-opacity="0.8"/><stop offset="1" stop-color="#666666" stop-opacity="0"/></linearGradient>
<filter id="b10_3" x="-100%" y="-100%" width="300%" height="300%" color-interpolation-filters="sRGB"><feGaussianBlur stdDeviation="10 3"/></filter>
<clipPath id="cCs"><path d="M130,1518 C141.3,1518.2 167.7,1517.5 198,1519 C228.3,1520.5 279.5,1523 312,1527 C344.5,1531 369.3,1538.2 393,1543 C416.7,1547.8 436.2,1552.2 454,1556 C471.8,1559.8 485.5,1563.7 500,1566 C514.5,1568.3 526,1570 541,1570 C556,1570 574,1568.3 590,1566 C606,1563.7 615.4,1560.5 636.7,1556 C658,1551.5 691,1543.8 718,1539 C745,1534.2 771.3,1530.7 799,1527 C826.7,1523.3 859.2,1518.8 884.4,1517 C909.6,1515.2 939.1,1516.2 950,1516 L950,1750 L130,1750 Z"/></clipPath>
<filter id="b8_8" x="-100%" y="-100%" width="300%" height="300%" color-interpolation-filters="sRGB"><feGaussianBlur stdDeviation="8 8"/></filter>
<filter id="b2_2" x="-100%" y="-100%" width="300%" height="300%" color-interpolation-filters="sRGB"><feGaussianBlur stdDeviation="2 2"/></filter>
<linearGradient id="C5" gradientUnits="userSpaceOnUse" x1="0" y1="1486" x2="0" y2="1549"><stop offset="0" stop-color="#6b6b6b"/><stop offset="0.46" stop-color="#6e6e6e"/><stop offset="1" stop-color="#787878"/></linearGradient>
<linearGradient id="cbgC" gradientUnits="userSpaceOnUse" x1="0" y1="998" x2="0" y2="1695.7"><stop offset="0" stop-color="#ffffff"/><stop offset="1" stop-color="#000000"/></linearGradient>
<filter id="jetcbC" filterUnits="userSpaceOnUse" x="910.3" y="998" width="71.1" height="697.7" color-interpolation-filters="sRGB"><feComponentTransfer><feFuncR type="table" tableValues="0 0 0 0 0 0 0 0 0 0 0 0 0 0 0 0 0 0 0 0 0 0 0 0 0 0 0 0 0 0 0 0 0 0 0 0 0 0 0 0 0 0 0 0 0 0 0 0 0 0 0 0 0 0 0 0 0 0 0 0 0 0 0 0 0 0 0 0 0 0 0 0 0 0 0 0 0 0 0 0 0 0 0 0 0 0 0 0 0 0 0 0 0 0 0 0 0 0 0 0 0 0 0 0 0 0 0 0.216 0.431 0.466 0.501 0.536 0.571 0.606 0.641 0.675 0.71 0.745 0.773 0.802 0.83 0.858 0.887 0.915 0.943 0.972 1 1 1 1 1 1 1 1 1 1 1 1 1 1 1 1 1 1 1 1 1 1 1 1 1 1 1 1 1 1 1 1 1 1 1 1 1 1 1 1 1 1 1 1 1 1 1 1 1 1 1 1 1 1 1 1 1 1 0.99 0.964 0.938 0.913 0.887 0.861 0.836 0.81 0.784 0.749 0.714 0.678 0.643 0.608 0.573 0.537 0.502"/><feFuncG type="table" tableValues="0 0 0 0 0 0 0 0 0 0 0 0 0 0 0 0 0 0 0 0 0 0 0 0 0 0 0.02 0.04 0.06 0.08 0.1 0.12 0.141 0.161 0.181 0.201 0.221 0.241 0.261 0.281 0.301 0.321 0.341 0.361 0.381 0.402 0.422 0.442 0.462 0.482 0.502 0.522 0.542 0.562 0.582 0.602 0.621 0.641 0.661 0.681 0.701 0.721 0.741 0.761 0.781 0.801 0.821 0.841 0.861 0.88 0.9 0.92 0.94 0.96 0.98 1 1 1 1 1 1 1 1 1 1 1 1 1 1 1 1 1 1 0.996 0.992 0.987 0.983 0.979 0.975 0.971 0.966 0.962 0.958 0.954 0.95 0.945 0.941 0.971 1 1 1 1 1 1 1 1 1 1 1 1 1 1 1 1 1 1 1 0.979 0.958 0.938 0.917 0.896 0.875 0.855 0.834 0.813 0.792 0.772 0.751 0.73 0.709 0.689 0.668 0.647 0.626 0.606 0.585 0.564 0.543 0.523 0.502 0.482 0.462 0.442 0.422 0.402 0.381 0.361 0.341 0.321 0.301 0.281 0.261 0.241 0.221 0.201 0.181 0.161 0.141 0.12 0.1 0.08 0.06 0.04 0.02 0 0 0 0 0 0 0 0 0 0 0 0 0 0 0 0 0 0 0 0 0 0 0 0 0 0"/><feFuncB type="table" tableValues="0.502 0.522 0.542 0.562 0.582 0.602 0.621 0.641 0.661 0.681 0.701 0.721 0.741 0.761 0.781 0.801 0.821 0.841 0.861 0.88 0.9 0.92 0.94 0.96 0.98 1 1 1 1 1 1 1 1 1 1 1 1 1 1 1 1 1 1 1 1 1 1 1 1 1 1 1 1 1 1 1 1 1 1 1 1 1 1 1 1 1 1 1 1 1 1 1 1 1 1 1 0.976 0.952 0.927 0.903 0.879 0.855 0.83 0.806 0.782 0.758 0.734 0.709 0.685 0.661 0.637 0.612 0.588 0.569 0.549 0.529 0.51 0.49 0.471 0.451 0.431 0.412 0.392 0.373 0.353 0.333 0.314 0.275 0.235 0.209 0.183 0.157 0.131 0.105 0.078 0.052 0.026 0 0 0 0 0 0 0 0 0 0 0 0 0 0 0 0 0 0 0 0 0 0 0 0 0 0 0 0 0 0 0 0 0 0 0 0 0 0 0 0 0 0 0 0 0 0 0 0 0 0 0 0 0 0 0 0 0 0 0 0 0 0 0 0 0 0 0 0 0 0 0 0 0 0 0 0 0 0 0 0 0 0 0 0"/></feComponentTransfer></filter>
<filter id="jetD" filterUnits="userSpaceOnUse" x="1370.5" y="1001" width="703.5" height="705" color-interpolation-filters="sRGB"><feComponentTransfer><feFuncR type="table" tableValues="0 0 0 0 0 0 0 0 0 0 0 0 0 0 0 0 0 0 0 0 0 0 0 0 0 0 0 0 0 0 0 0 0 0 0 0 0 0 0 0 0 0 0 0 0 0 0 0 0 0 0 0.108 0.216 0.324 0.431 0.501 0.571 0.641 0.71 0.773 0.83 0.887 0.943 1 1 1 1 1 1 1 1 1 1 1 1 1 1 1 1 1 1 1 1 1 1 1 1 1 1 1 1 1 0.99 0.938 0.887 0.836 0.784 0.714 0.643 0.573 0.502"/><feFuncG type="table" tableValues="0 0 0 0 0 0 0 0 0 0 0 0 0 0.02 0.06 0.1 0.141 0.181 0.221 0.261 0.301 0.341 0.381 0.422 0.462 0.502 0.542 0.582 0.621 0.661 0.701 0.741 0.781 0.821 0.861 0.9 0.94 0.98 1 1 1 1 1 1 1 1 1 1 1 1 1 1 1 1 1 1 1 1 1 1 1 1 1 1 0.958 0.917 0.875 0.834 0.792 0.751 0.709 0.668 0.626 0.585 0.543 0.502 0.462 0.422 0.381 0.341 0.301 0.261 0.221 0.181 0.141 0.1 0.06 0.02 0 0 0 0 0 0 0 0 0 0 0 0 0"/><feFuncB type="table" tableValues="0.502 0.542 0.582 0.621 0.661 0.701 0.741 0.781 0.821 0.861 0.9 0.94 0.98 1 1 1 1 1 1 1 1 1 1 1 1 1 1 1 1 1 1 1 1 1 1 1 1 1 0.976 0.927 0.879 0.83 0.782 0.734 0.685 0.637 0.588 0.539 0.49 0.441 0.392 0.353 0.314 0.275 0.235 0.183 0.131 0.078 0.026 0 0 0 0 0 0 0 0 0 0 0 0 0 0 0 0 0 0 0 0 0 0 0 0 0 0 0 0 0 0 0 0 0 0 0 0 0 0 0 0 0 0"/></feComponentTransfer></filter>
<clipPath id="clipD"><rect x="1367.5" y="998" width="709.5" height="711"/></clipPath>
<linearGradient id="D0" gradientUnits="userSpaceOnUse" x1="0" y1="990" x2="0" y2="1720"><stop offset="0" stop-color="#1a1a1a"/><stop offset="0.018" stop-color="#1a1a1a"/><stop offset="0.04" stop-color="#1a1a1a"/><stop offset="0.047" stop-color="#505050"/><stop offset="0.094" stop-color="#505050"/><stop offset="0.101" stop-color="#666666"/><stop offset="0.154" stop-color="#666666"/><stop offset="0.161" stop-color="#707070"/><stop offset="0.262" stop-color="#707070"/><stop offset="0.269" stop-color="#666666"/><stop offset="0.319" stop-color="#666666"/><stop offset="0.326" stop-color="#545454"/><stop offset="0.376" stop-color="#545454"/><stop offset="0.382" stop-color="#333333"/><stop offset="0.432" stop-color="#333333"/><stop offset="0.439" stop-color="#4c4c4c"/><stop offset="0.478" stop-color="#4c4c4c"/><stop offset="0.485" stop-color="#5e5e5e"/><stop offset="0.518" stop-color="#5e5e5e"/><stop offset="0.524" stop-color="#676767"/><stop offset="0.549" stop-color="#676767"/><stop offset="0.556" stop-color="#707070"/><stop offset="0.705" stop-color="#707070"/><stop offset="0.733" stop-color="#666666"/><stop offset="0.751" stop-color="#606060"/><stop offset="0.79" stop-color="#474747"/><stop offset="0.822" stop-color="#333333"/><stop offset="0.853" stop-color="#202020"/><stop offset="0.89" stop-color="#121212"/><stop offset="0.929" stop-color="#000000"/><stop offset="1" stop-color="#000000"/></linearGradient>
<linearGradient id="D1" gradientUnits="userSpaceOnUse" x1="1371" y1="0" x2="2074" y2="0"><stop offset="0" stop-color="#1f1f1f" stop-opacity="0"/><stop offset="0.269" stop-color="#1a1a1a" stop-opacity="0"/><stop offset="0.411" stop-color="#000000" stop-opacity="1"/><stop offset="0.596" stop-color="#000000" stop-opacity="1"/><stop offset="0.752" stop-color="#1a1a1a" stop-opacity="0"/><stop offset="1" stop-color="#1a1a1a" stop-opacity="0"/></linearGradient>
<linearGradient id="D2" gradientUnits="userSpaceOnUse" x1="1371" y1="0" x2="2074" y2="0"><stop offset="0" stop-color="#000000" stop-opacity="1"/><stop offset="0.034" stop-color="#050505" stop-opacity="1"/><stop offset="0.098" stop-color="#1f1f1f" stop-opacity="1"/><stop offset="0.155" stop-color="#2e2e2e" stop-opacity="0.6"/><stop offset="0.226" stop-color="#333333" stop-opacity="0"/><stop offset="0.752" stop-color="#333333" stop-opacity="0"/><stop offset="0.838" stop-color="#2e2e2e" stop-opacity="0.6"/><stop offset="0.909" stop-color="#1f1f1f" stop-opacity="1"/><stop offset="0.966" stop-color="#050505" stop-opacity="1"/><stop offset="1" stop-color="#000000" stop-opacity="1"/></linearGradient>
<linearGradient id="D3" gradientUnits="userSpaceOnUse" x1="1560" y1="0" x2="1900" y2="0"><stop offset="0" stop-color="#383838" stop-opacity="0"/><stop offset="0.353" stop-color="#383838" stop-opacity="0.9"/><stop offset="0.647" stop-color="#383838" stop-opacity="0.9"/><stop offset="1" stop-color="#383838" stop-opacity="0"/></linearGradient>
<linearGradient id="D4" gradientUnits="userSpaceOnUse" x1="1600" y1="0" x2="1860" y2="0"><stop offset="0" stop-color="#4f4f4f" stop-opacity="0"/><stop offset="0.346" stop-color="#4f4f4f" stop-opacity="0.8"/><stop offset="0.654" stop-color="#4f4f4f" stop-opacity="0.8"/><stop offset="1" stop-color="#4f4f4f" stop-opacity="0"/></linearGradient>
<linearGradient id="D4b" gradientUnits="userSpaceOnUse" x1="1640" y1="0" x2="1810" y2="0"><stop offset="0" stop-color="#5e5e5e" stop-opacity="0"/><stop offset="0.353" stop-color="#5e5e5e" stop-opacity="0.7"/><stop offset="0.647" stop-color="#5e5e5e" stop-opacity="0.7"/><stop offset="1" stop-color="#5e5e5e" stop-opacity="0"/></linearGradient>
<filter id="b6_7" x="-100%" y="-100%" width="300%" height="300%" color-interpolation-filters="sRGB"><feGaussianBlur stdDeviation="6 7"/></filter>
<filter id="b3p5_4p5" x="-100%" y="-100%" width="300%" height="300%" color-interpolation-filters="sRGB"><feGaussianBlur stdDeviation="3.5 4.5"/></filter>
<filter id="b2p8_2p8" x="-100%" y="-100%" width="300%" height="300%" color-interpolation-filters="sRGB"><feGaussianBlur stdDeviation="2.8 2.8"/></filter>
<linearGradient id="D5" gradientUnits="userSpaceOnUse" x1="0" y1="1453" x2="0" y2="1533"><stop offset="0" stop-color="#666666"/><stop offset="0.463" stop-color="#6a6a6a"/><stop offset="0.625" stop-color="#808080"/><stop offset="0.7" stop-color="#8c8c8c"/><stop offset="0.762" stop-color="#999999"/><stop offset="0.825" stop-color="#a2a2a2"/><stop offset="0.912" stop-color="#bdbdbd"/><stop offset="1" stop-color="#dbdbdb"/></linearGradient>
<linearGradient id="cbgD" gradientUnits="userSpaceOnUse" x1="0" y1="995.5" x2="0" y2="1700.4"><stop offset="0" stop-color="#ffffff"/><stop offset="1" stop-color="#000000"/></linearGradient>
<filter id="jetcbD" filterUnits="userSpaceOnUse" x="2094.8" y="995.5" width="66.5" height="704.9" color-interpolation-filters="sRGB"><feComponentTransfer><feFuncR type="table" tableValues="0 0 0 0 0 0 0 0 0 0 0 0 0 0 0 0 0 0 0 0 0 0 0 0 0 0 0 0 0 0 0 0 0 0 0 0 0 0 0 0 0 0 0 0 0 0 0 0 0 0 0 0 0 0 0 0 0 0 0 0 0 0 0 0 0 0 0 0 0 0 0 0 0 0 0 0 0 0 0 0 0 0 0 0 0 0 0 0 0 0 0 0 0 0 0 0 0 0 0 0 0 0 0 0 0 0 0 0.216 0.431 0.466 0.501 0.536 0.571 0.606 0.641 0.675 0.71 0.745 0.773 0.802 0.83 0.858 0.887 0.915 0.943 0.972 1 1 1 1 1 1 1 1 1 1 1 1 1 1 1 1 1 1 1 1 1 1 1 1 1 1 1 1 1 1 1 1 1 1 1 1 1 1 1 1 1 1 1 1 1 1 1 1 1 1 1 1 1 1 1 1 1 1 0.99 0.964 0.938 0.913 0.887 0.861 0.836 0.81 0.784 0.749 0.714 0.678 0.643 0.608 0.573 0.537 0.502"/><feFuncG type="table" tableValues="0 0 0 0 0 0 0 0 0 0 0 0 0 0 0 0 0 0 0 0 0 0 0 0 0 0 0.02 0.04 0.06 0.08 0.1 0.12 0.141 0.161 0.181 0.201 0.221 0.241 0.261 0.281 0.301 0.321 0.341 0.361 0.381 0.402 0.422 0.442 0.462 0.482 0.502 0.522 0.542 0.562 0.582 0.602 0.621 0.641 0.661 0.681 0.701 0.721 0.741 0.761 0.781 0.801 0.821 0.841 0.861 0.88 0.9 0.92 0.94 0.96 0.98 1 1 1 1 1 1 1 1 1 1 1 1 1 1 1 1 1 1 0.996 0.992 0.987 0.983 0.979 0.975 0.971 0.966 0.962 0.958 0.954 0.95 0.945 0.941 0.971 1 1 1 1 1 1 1 1 1 1 1 1 1 1 1 1 1 1 1 0.979 0.958 0.938 0.917 0.896 0.875 0.855 0.834 0.813 0.792 0.772 0.751 0.73 0.709 0.689 0.668 0.647 0.626 0.606 0.585 0.564 0.543 0.523 0.502 0.482 0.462 0.442 0.422 0.402 0.381 0.361 0.341 0.321 0.301 0.281 0.261 0.241 0.221 0.201 0.181 0.161 0.141 0.12 0.1 0.08 0.06 0.04 0.02 0 0 0 0 0 0 0 0 0 0 0 0 0 0 0 0 0 0 0 0 0 0 0 0 0 0"/><feFuncB type="table" tableValues="0.502 0.522 0.542 0.562 0.582 0.602 0.621 0.641 0.661 0.681 0.701 0.721 0.741 0.761 0.781 0.801 0.821 0.841 0.861 0.88 0.9 0.92 0.94 0.96 0.98 1 1 1 1 1 1 1 1 1 1 1 1 1 1 1 1 1 1 1 1 1 1 1 1 1 1 1 1 1 1 1 1 1 1 1 1 1 1 1 1 1 1 1 1 1 1 1 1 1 1 1 0.976 0.952 0.927 0.903 0.879 0.855 0.83 0.806 0.782 0.758 0.734 0.709 0.685 0.661 0.637 0.612 0.588 0.569 0.549 0.529 0.51 0.49 0.471 0.451 0.431 0.412 0.392 0.373 0.353 0.333 0.314 0.275 0.235 0.209 0.183 0.157 0.131 0.105 0.078 0.052 0.026 0 0 0 0 0 0 0 0 0 0 0 0 0 0 0 0 0 0 0 0 0 0 0 0 0 0 0 0 0 0 0 0 0 0 0 0 0 0 0 0 0 0 0 0 0 0 0 0 0 0 0 0 0 0 0 0 0 0 0 0 0 0 0 0 0 0 0 0 0 0 0 0 0 0 0 0 0 0 0 0 0 0 0 0"/></feComponentTransfer></filter>
<filter id="soft" x="-5%" y="-10%" width="110%" height="120%"><feGaussianBlur stdDeviation="0.7"/></filter>
<filter id="soft2" filterUnits="userSpaceOnUse" x="0" y="0" width="2351" height="1898"><feGaussianBlur stdDeviation="0.6"/></filter>
</defs>
<rect x="0" y="0" width="2351" height="1898" fill="#fff"/>
<!-- panel A -->
<g filter="url(#jetA)"><g clip-path="url(#clipA)">
<rect x="195.5" y="54" width="698.5" height="701.5" fill="url(#A0)"/>
<g filter="url(#b9_3)"><path d="M150,40 L258,40 L254,250 L246,380 L230,480 L212,570 L212,640 L150,640Z" fill="url(#A1)"/><path d="M940,40 L830,40 L834,250 L842,380 L858,480 L876,570 L876,640 L940,640Z" fill="url(#A1)"/></g>
<g filter="url(#b15_3)"><path d="M258,78 L252,250 L244,380 L232,480 L216,570 L216,660 L528,660 L524,520 L506,450 L484,380 L460,300 L436,200 L422,78Z" fill="url(#A2)"/><path d="M828.8,78 L834.8,250 L842.8,380 L854.8,480 L870.8,570 L870.8,660 L558.8,660 L562.8,520 L580.8,450 L602.8,380 L626.8,300 L650.8,200 L664.8,78Z" fill="url(#A2)"/></g>
<g filter="url(#b30_22)" opacity="0.85"><ellipse cx="372" cy="575" rx="95" ry="50" fill="#bbbbbb"/><ellipse cx="714.8" cy="575" rx="95" ry="50" fill="#bbbbbb"/></g>
<g filter="url(#b24_14)"><path d="M501.4,400 L585.4,400 L621.4,640 L465.4,640Z" fill="url(#A2v)"/></g>
<g filter="url(#b13_6)"><rect x="526.4" y="380" width="34" height="150" fill="url(#A2c)"/></g>
<g filter="url(#b3p5_2)"><path d="M276,400 L282,400 L266,590 L260,590Z" fill="url(#A2s)"/><path d="M449,400 L455,400 L481,590 L475,590Z" fill="url(#A2s)"/><path d="M631.8,400 L637.8,400 L611.8,590 L605.8,590Z" fill="url(#A2s)"/><path d="M804.8,400 L810.8,400 L826.8,590 L820.8,590Z" fill="url(#A2s)"/></g>
<g filter="url(#b14_2)"><path d="M501.4,40 L585.4,40 L581.4,300 L569.4,430 L517.4,430 L505.4,300Z" fill="url(#A3)"/></g>
<g filter="url(#b8_2)"><rect x="532.4" y="40" width="22" height="290" fill="url(#A4)"/></g>
<g filter="url(#b4p5_4p5)"><path d="M536.4,616.1 L533.7,615.5 L531,614.6 L528.3,613.6 L525.8,612.3 L523.3,610.9 L521,609.3 L518.7,607.5 L516.5,605.5 L514.5,603.4 L512.6,601.1 L510.9,598.7 L509.3,596.2 L507.9,593.5 L506.7,590.8 L505.6,587.9 L504.7,585 L504,582 L503.5,579 L503.1,575.9 L503,572.8 L503.1,569.8 L503.3,566.7 L503.7,563.7 L504.4,560.7" fill="none" stroke="#c2c2c2" stroke-width="12" stroke-linecap="round"/><path d="M582.4,560.7 L583.1,563.7 L583.5,566.7 L583.7,569.8 L583.8,572.8 L583.7,575.9 L583.3,579 L582.8,582 L582.1,585 L581.2,587.9 L580.1,590.8 L578.9,593.5 L577.5,596.2 L575.9,598.7 L574.2,601.1 L572.3,603.4 L570.3,605.5 L568.1,607.5 L565.8,609.3 L563.5,610.9 L561,612.3 L558.5,613.6 L555.8,614.6 L553.1,615.5 L550.4,616.1" fill="none" stroke="#c2c2c2" stroke-width="12" stroke-linecap="round"/></g>
<g filter="url(#b2p2_2p2)"><path d="M533.3,614.3 L531.8,613.8 L530.4,613.3 L528.9,612.7 L527.5,612 L526.1,611.2 L524.7,610.4 L523.3,609.6 L522,608.6 L520.7,607.6 L519.5,606.6 L518.3,605.5 L517.1,604.3 L516,603.1 L514.9,601.9 L513.9,600.6 L512.9,599.2 L511.9,597.9 L511.1,596.4 L510.2,595 L509.4,593.4 L508.7,591.9 L508,590.3 L507.4,588.7 L506.8,587.1" fill="none" stroke="#e6e6e6" stroke-width="6.5" stroke-linecap="round"/><path d="M580,587.1 L579.4,588.7 L578.8,590.3 L578.1,591.9 L577.4,593.4 L576.6,595 L575.7,596.4 L574.9,597.9 L573.9,599.2 L572.9,600.6 L571.9,601.9 L570.8,603.1 L569.7,604.3 L568.5,605.5 L567.3,606.6 L566.1,607.6 L564.8,608.6 L563.5,609.6 L562.1,610.4 L560.7,611.2 L559.3,612 L557.9,612.7 L556.4,613.3 L555,613.8 L553.5,614.3" fill="none" stroke="#e6e6e6" stroke-width="6.5" stroke-linecap="round"/></g>
<g filter="url(#b1p8_1p8)"><ellipse cx="515.9" cy="541.5" rx="3.2" ry="3.2" fill="#bdbdbd"/><ellipse cx="570.9" cy="541.5" rx="3.2" ry="3.2" fill="#bdbdbd"/></g>
<g clip-path="url(#cAs)"><rect x="150" y="540" width="790" height="260" fill="url(#A7)"/><g filter="url(#b16_10)"><ellipse cx="543.4" cy="640" rx="105" ry="34" fill="#6e6e6e"/></g><g filter="url(#b3p5_3p5)"><path d="M150,559 C161.3,559.1 188.8,556.7 218,559.8 C247.2,562.9 290.8,570.9 325,577.7 C359.2,584.5 400,595.4 423,600.5 C446,605.6 450.2,606.6 463,608.6 C475.8,610.6 486.6,611.5 500,612.3 C513.4,613.1 528.9,613.4 543.4,613.4 C557.9,613.4 573.6,613.1 587,612.3 C600.4,611.5 607.9,611.9 624,608.6 C640.1,605.3 657.2,598.5 683.4,592.3 C709.6,586.1 749.6,576.9 781,571.2 C812.4,565.5 845.5,560.5 872,558.1 C898.5,555.7 928.7,557.2 940,557" fill="none" stroke="#747474" stroke-width="14"/></g><g filter="url(#b9_9)"><path d="M650,800 L676,705 L710,668 L760,652 L940,652 L940,800Z" fill="#000000"/></g><g filter="url(#b4_4)"><ellipse cx="543.4" cy="624" rx="19" ry="10" fill="#919191"/></g></g>
<g filter="url(#b1p5_1p5)"><ellipse cx="543.4" cy="614" rx="4" ry="3" fill="#9e9e9e"/></g>
<g filter="url(#b4p5_4p5)"><ellipse cx="543.4" cy="516.5" rx="19" ry="17" fill="#7d7d7d"/></g>
<g filter="url(#b2p5_2p5)"><ellipse cx="543.4" cy="529" rx="8" ry="5.5" fill="#616161"/></g>
<path d="M543.4,529.3 C556.4,531 579.8,551 579.8,575 C579.8,597 564.4,612.8 543.4,612.8 C522.4,612.8 507,597 507,575 C507,551 530.4,531 543.4,529.3 Z" fill="url(#A5)"/>
<ellipse cx="543.4" cy="542" rx="21" ry="17" fill="url(#A6)" clip-path="url(#cAegg)"/>
</g></g>
<g stroke="#000" fill="none" filter="url(#soft2)">
<line x1="198" y1="60" x2="198" y2="753.5" stroke-width="7"/>
<line x1="194.5" y1="750" x2="889" y2="750" stroke-width="7"/>
<line x1="190.7" y1="74" x2="204.5" y2="74" stroke-width="5.2" stroke-linecap="round"/>
<line x1="190.7" y1="209.3" x2="204.5" y2="209.3" stroke-width="5.2" stroke-linecap="round"/>
<line x1="190.7" y1="344.7" x2="204.5" y2="344.7" stroke-width="5.2" stroke-linecap="round"/>
<line x1="190.7" y1="480" x2="204.5" y2="480" stroke-width="5.2" stroke-linecap="round"/>
<line x1="190.7" y1="615.3" x2="204.5" y2="615.3" stroke-width="5.2" stroke-linecap="round"/>
<line x1="190.7" y1="749.8" x2="204.5" y2="749.8" stroke-width="5.2" stroke-linecap="round"/>
<line x1="300" y1="747" x2="300" y2="758" stroke-width="5.2" stroke-linecap="round"/>
<line x1="421.8" y1="747" x2="421.8" y2="758" stroke-width="5.2" stroke-linecap="round"/>
<line x1="543.2" y1="747" x2="543.2" y2="758" stroke-width="5.2" stroke-linecap="round"/>
<line x1="665" y1="747" x2="665" y2="758" stroke-width="5.2" stroke-linecap="round"/>
<line x1="785.5" y1="747" x2="785.5" y2="758" stroke-width="5.2" stroke-linecap="round"/>
</g>
<g filter="url(#soft)">
<text transform="translate(107.6,89.2)" font-family='"Liberation Sans", "DejaVu Sans", sans-serif' font-size="40" fill="#1e1e1e">500</text>
<text transform="translate(107.6,224.5)" font-family='"Liberation Sans", "DejaVu Sans", sans-serif' font-size="40" fill="#1e1e1e">400</text>
<text transform="translate(107.6,359.8)" font-family='"Liberation Sans", "DejaVu Sans", sans-serif' font-size="40" fill="#1e1e1e">300</text>
<text transform="translate(107.6,495.1)" font-family='"Liberation Sans", "DejaVu Sans", sans-serif' font-size="40" fill="#1e1e1e">200</text>
<text transform="translate(107.6,630.4)" font-family='"Liberation Sans", "DejaVu Sans", sans-serif' font-size="40" fill="#1e1e1e">100</text>
<text transform="translate(152.1,764.9)" font-family='"Liberation Sans", "DejaVu Sans", sans-serif' font-size="40" fill="#1e1e1e">0</text>
<text transform="translate(249.2,798.6)" font-family='"Liberation Sans", "DejaVu Sans", sans-serif' font-size="40" fill="#1e1e1e">-200</text>
<text transform="translate(369.8,798.6)" font-family='"Liberation Sans", "DejaVu Sans", sans-serif' font-size="40" fill="#1e1e1e">-100</text>
<text transform="translate(519.5,798.6)" font-family='"Liberation Sans", "DejaVu Sans", sans-serif' font-size="40" fill="#1e1e1e">0</text>
<text transform="translate(622.1,798.6)" font-family='"Liberation Sans", "DejaVu Sans", sans-serif' font-size="40" fill="#1e1e1e">100</text>
<text transform="translate(740.1,798.6)" font-family='"Liberation Sans", "DejaVu Sans", sans-serif' font-size="40" fill="#1e1e1e">200</text>
<g transform="translate(374.7,902.3)"><text transform="translate(-0.7,0) scale(0.982,1)" font-family='"Liberation Sans", "DejaVu Sans", sans-serif' font-size="55" fill="#1e1e1e">x(m) (x10</text><text transform="translate(233,17.8) scale(1.123,1.505)" font-family='"Liberation Sans", "DejaVu Sans", sans-serif' font-size="55" fill="#1e1e1e">^</text><text transform="translate(261.8,0) scale(1.009,1)" font-family='"Liberation Sans", "DejaVu Sans", sans-serif' font-size="55" fill="#1e1e1e">-9)</text></g>
<g transform="translate(59.3,570.3) rotate(-90)"><text transform="translate(-2.1,0) scale(0.975,1)" font-family='"Liberation Sans", "DejaVu Sans", sans-serif' font-size="55" fill="#1e1e1e">z(m) (x10</text><text transform="translate(229.8,17.8) scale(1.107,1.505)" font-family='"Liberation Sans", "DejaVu Sans", sans-serif' font-size="55" fill="#1e1e1e">^</text><text transform="translate(258.2,0) scale(0.995,1)" font-family='"Liberation Sans", "DejaVu Sans", sans-serif' font-size="55" fill="#1e1e1e">-9)</text></g>
<text transform="translate(1046.2,66.6)" font-family='"Liberation Sans", "DejaVu Sans", sans-serif' font-size="55" fill="#1e1e1e">58</text>
<text transform="translate(1013.8,185.3)" font-family='"Liberation Sans", "DejaVu Sans", sans-serif' font-size="55" fill="#1e1e1e">20.1</text>
<text transform="translate(1014,304.1)" font-family='"Liberation Sans", "DejaVu Sans", sans-serif' font-size="55" fill="#1e1e1e">6.95</text>
<text transform="translate(1014.2,422.9)" font-family='"Liberation Sans", "DejaVu Sans", sans-serif' font-size="55" fill="#1e1e1e">2.41</text>
<text transform="translate(999,540.1)" font-family='"Liberation Sans", "DejaVu Sans", sans-serif' font-size="55" fill="#1e1e1e">0.834</text>
<text transform="translate(999.5,657.9)" font-family='"Liberation Sans", "DejaVu Sans", sans-serif' font-size="55" fill="#1e1e1e">0.289</text>
<text transform="translate(1030.2,776.3)" font-family='"Liberation Sans", "DejaVu Sans", sans-serif' font-size="55" fill="#1e1e1e">0.1</text>
</g>
<g filter="url(#jetcbA)"><rect x="898.7" y="55.6" width="72.3" height="709.1" fill="url(#cbgA)"/></g>
<g filter="url(#soft)">
<text transform="translate(162.7,893) scale(0.786,0.94)" font-family='"Liberation Serif", "DejaVu Serif", serif' font-size="87" fill="#000">(</text>
<text transform="translate(189.1,896.9) scale(1.055,1)" font-family='"Liberation Serif", "DejaVu Serif", serif' font-size="78" fill="#000">A</text>
<text transform="translate(249.6,893) scale(0.839,0.94)" font-family='"Liberation Serif", "DejaVu Serif", serif' font-size="87" fill="#000">)</text>
</g>
<path d="M536.2,90.7 L608.3,90.7 L608.3,78.5 L645.7,96.7 L608.3,114.9 L608.3,102.7 L548.2,102.7 L548.2,169.4 L560.1,169.4 L542.2,205.1 L524.4,169.4 L536.2,169.4Z" fill="#fff"/>
<text transform="translate(474,230.3) scale(0.958,1)" font-family='"Liberation Serif", "DejaVu Serif", serif' font-size="100" fill="#fff">k</text>
<text transform="translate(636.4,184.2) scale(1.144,1)" font-family='"Liberation Serif", "DejaVu Serif", serif' font-size="98" fill="#fff">E</text>
<rect x="223.6" y="645" width="422.8" height="93.8" fill="#fff"/>
<text transform="translate(234.9,722) scale(1.094,1)" font-family='"Liberation Serif", "DejaVu Serif", serif' font-size="64" font-style="italic" fill="#000" stroke="#000" stroke-width="1.1">EF</text>
<text transform="translate(334.6,722) scale(1.267,1)" font-family='"Liberation Serif", "DejaVu Serif", serif' font-size="64" fill="#000" stroke="#000" stroke-width="0.8">=</text>
<text transform="translate(384,722) scale(1.069,1)" font-family='"Liberation Serif", "DejaVu Serif", serif' font-size="64" fill="#000" stroke="#000" stroke-width="1.1">1.12</text>
<text transform="translate(503.1,722) scale(1.211,1)" font-family='"Liberation Serif", "DejaVu Serif", serif' font-size="64" fill="#000" stroke="#000" stroke-width="0.8">×</text>
<text transform="translate(547.4,722) scale(1.029,1)" font-family='"Liberation Serif", "DejaVu Serif", serif' font-size="64" fill="#000" stroke="#000" stroke-width="1.1">10</text>
<text transform="translate(610.2,692.9) scale(1.174,1)" font-family='"Liberation Serif", "DejaVu Serif", serif' font-size="37" fill="#000" stroke="#000" stroke-width="1.1">7</text>
<line x1="235" y1="661.4" x2="323" y2="661.4" stroke="#000" stroke-width="3.6"/>
<line x1="375.4" y1="636.8" x2="477.1" y2="599.6" stroke="#000" stroke-width="4.2"/><polygon fill="#000" points="503.8,589.9 480.7,615.4 469.8,585.3"/>
<!-- panel B -->
<g filter="url(#jetB)"><g clip-path="url(#clipB)">
<rect x="1362.5" y="44" width="700.5" height="704" fill="url(#B0)"/>
<g filter="url(#b34_3)"><path d="M1300,30 L1500,30 L1450,200 L1400,350 L1300,350Z" fill="url(#B1)"/><path d="M2120,30 L1940,30 L1985,200 L2030,350 L2120,350Z" fill="url(#B1)"/></g>
<g filter="url(#b20_3)"><path d="M1645,30 L1759,30 L1747,300 L1723,480 L1671,480 L1651,300Z" fill="url(#B1c)"/></g>
<g filter="url(#b38_38)"><ellipse cx="1550" cy="505" rx="130" ry="75" fill="#7f7f7f"/><ellipse cx="1893" cy="410" rx="85" ry="100" fill="#7f7f7f"/></g>
<g filter="url(#b9_3)"><rect x="1685" y="40" width="24" height="520" fill="url(#B2)"/></g>
<g filter="url(#b7_7)"><path d="M1300,545 C1311.3,545.3 1338.8,545 1368,546.6 C1397.2,548.2 1442.5,549.3 1475,554.7 C1507.5,560.1 1534.8,571.5 1563,579 C1591.2,586.5 1617,594.6 1644,599.4 C1671,604.1 1698,606.8 1725,607.5 C1752,608.2 1779.5,605.8 1806,603.5 C1832.5,601.2 1863.5,599.4 1884,594 C1904.5,588.6 1914.8,577.5 1929,571 C1943.2,564.5 1948.8,558.8 1969,554.7 C1989.2,550.6 2024.8,548.1 2050,546.6 C2075.2,545.1 2108.3,546.1 2120,546 L2120,820 L1300,820 Z" fill="#616161"/><path d="M1300,557 C1311.3,557.3 1338.8,557 1368,558.6 C1397.2,560.2 1442.5,561.3 1475,566.7 C1507.5,572.1 1534.8,583.5 1563,591 C1591.2,598.5 1617,606.6 1644,611.4 C1671,616.1 1698,618.8 1725,619.5 C1752,620.2 1779.5,617.8 1806,615.5 C1832.5,613.2 1863.5,611.4 1884,606 C1904.5,600.6 1914.8,589.5 1929,583 C1943.2,576.5 1948.8,570.8 1969,566.7 C1989.2,562.6 2024.8,560.1 2050,558.6 C2075.2,557.1 2108.3,558.1 2120,558 L2120,820 L1300,820 Z" fill="#4c4c4c"/><path d="M1300,568 C1311.3,568.3 1338.8,568 1368,569.6 C1397.2,571.2 1442.5,572.3 1475,577.7 C1507.5,583.1 1534.8,594.5 1563,602 C1591.2,609.5 1617,617.6 1644,622.4 C1671,627.1 1698,629.8 1725,630.5 C1752,631.2 1779.5,628.8 1806,626.5 C1832.5,624.2 1863.5,622.4 1884,617 C1904.5,611.6 1914.8,600.5 1929,594 C1943.2,587.5 1948.8,581.8 1969,577.7 C1989.2,573.6 2024.8,571.1 2050,569.6 C2075.2,568.1 2108.3,569.1 2120,569 L2120,820 L1300,820 Z" fill="#383838"/><path d="M1300,581 C1311.3,581.3 1338.8,581 1368,582.6 C1397.2,584.2 1442.5,585.3 1475,590.7 C1507.5,596.1 1534.8,607.5 1563,615 C1591.2,622.5 1617,630.6 1644,635.4 C1671,640.1 1698,642.8 1725,643.5 C1752,644.2 1779.5,641.8 1806,639.5 C1832.5,637.2 1863.5,635.4 1884,630 C1904.5,624.6 1914.8,613.5 1929,607 C1943.2,600.5 1948.8,594.8 1969,590.7 C1989.2,586.6 2024.8,584.1 2050,582.6 C2075.2,581.1 2108.3,582.1 2120,582 L2120,820 L1300,820 Z" fill="#262626"/><path d="M1300,599 C1311.3,599.3 1338.8,599 1368,600.6 C1397.2,602.2 1442.5,603.3 1475,608.7 C1507.5,614.1 1534.8,625.5 1563,633 C1591.2,640.5 1617,648.6 1644,653.4 C1671,658.1 1698,660.8 1725,661.5 C1752,662.2 1779.5,659.8 1806,657.5 C1832.5,655.2 1863.5,653.4 1884,648 C1904.5,642.6 1914.8,631.5 1929,625 C1943.2,618.5 1948.8,612.8 1969,608.7 C1989.2,604.6 2024.8,602.1 2050,600.6 C2075.2,599.1 2108.3,600.1 2120,600 L2120,820 L1300,820 Z" fill="#1a1a1a"/><path d="M1300,625 C1311.3,625.3 1338.8,625 1368,626.6 C1397.2,628.2 1442.5,629.3 1475,634.7 C1507.5,640.1 1534.8,651.5 1563,659 C1591.2,666.5 1617,674.6 1644,679.4 C1671,684.1 1698,686.8 1725,687.5 C1752,688.2 1779.5,685.8 1806,683.5 C1832.5,681.2 1863.5,679.4 1884,674 C1904.5,668.6 1914.8,657.5 1929,651 C1943.2,644.5 1948.8,638.8 1969,634.7 C1989.2,630.6 2024.8,628.1 2050,626.6 C2075.2,625.1 2108.3,626.1 2120,626 L2120,820 L1300,820 Z" fill="#0a0a0a"/><path d="M1300,651 C1311.3,651.3 1338.8,651 1368,652.6 C1397.2,654.2 1442.5,655.3 1475,660.7 C1507.5,666.1 1534.8,677.5 1563,685 C1591.2,692.5 1617,700.6 1644,705.4 C1671,710.1 1698,712.8 1725,713.5 C1752,714.2 1779.5,711.8 1806,709.5 C1832.5,707.2 1863.5,705.4 1884,700 C1904.5,694.6 1914.8,683.5 1929,677 C1943.2,670.5 1948.8,664.8 1969,660.7 C1989.2,656.6 2024.8,654.1 2050,652.6 C2075.2,651.1 2108.3,652.1 2120,652 L2120,820 L1300,820 Z" fill="#000000"/><ellipse cx="1525" cy="634" rx="60" ry="14" fill="#000000"/></g>
<g filter="url(#b14_7)"><ellipse cx="1770" cy="622" rx="80" ry="12" fill="#5c5c5c"/></g>
<g filter="url(#b8p5_8p5)"><path d="M1814.4,535 L1807.4,481 L1818.4,463 L1820.4,441 L1840.4,435 L1842.4,411 L1926.4,411 L1928.4,435 L1950.4,441 L1952.4,463 L1963.4,481 L1956.4,535 L1934.4,561 L1838.4,561Z" fill="#8e8e8e"/></g>
<g filter="url(#b6_6)"><ellipse cx="1884.4" cy="515" rx="60" ry="66" fill="#969696"/></g>
<g filter="url(#b5_5)"><ellipse cx="1884.4" cy="518" rx="46" ry="54" fill="#a3a3a3"/></g>
<g filter="url(#b6_6)"><ellipse cx="1884.4" cy="507" rx="27" ry="24" fill="#c2c2c2"/></g>
<g filter="url(#b1p6_1p6)"><ellipse cx="1856.9" cy="503.3" rx="2.6" ry="2.6" fill="#ebebeb"/><ellipse cx="1911.4" cy="503.3" rx="2.6" ry="2.6" fill="#ebebeb"/><ellipse cx="1847.9" cy="547" rx="2" ry="2" fill="#cccccc"/><ellipse cx="1919.4" cy="547.5" rx="2" ry="2" fill="#cccccc"/></g>
<ellipse cx="1884.4" cy="527" rx="35.8" ry="35.5" fill="#6c6c6c"/>
<g filter="url(#b5_5)"><path d="M1866,574 Q1888,579 1904,570.5 Q1911,566 1914,560" fill="none" stroke="#8f8f8f" stroke-width="25" stroke-linecap="round"/></g>
<g filter="url(#b3_3)"><path d="M1866,574 Q1888,579 1904,570.5 Q1911,566 1914,560" fill="none" stroke="#a3a3a3" stroke-width="17" stroke-linecap="round"/></g>
<g filter="url(#b1p7_1p7)"><path d="M1866,574 Q1888,579 1904,570.5 Q1911,566 1914,560" fill="none" stroke="#ededed" stroke-width="5.5" stroke-linecap="round"/></g>
</g></g>
<g stroke="#000" fill="none" filter="url(#soft2)">
<line x1="1364.4" y1="50" x2="1364.4" y2="746" stroke-width="7.5"/>
<line x1="1360.7" y1="742.3" x2="2058" y2="742.3" stroke-width="7.5"/>
<line x1="1357.1" y1="56.7" x2="1370.9" y2="56.7" stroke-width="5.2" stroke-linecap="round"/>
<line x1="1357.1" y1="194" x2="1370.9" y2="194" stroke-width="5.2" stroke-linecap="round"/>
<line x1="1357.1" y1="331.3" x2="1370.9" y2="331.3" stroke-width="5.2" stroke-linecap="round"/>
<line x1="1357.1" y1="468.6" x2="1370.9" y2="468.6" stroke-width="5.2" stroke-linecap="round"/>
<line x1="1357.1" y1="605.9" x2="1370.9" y2="605.9" stroke-width="5.2" stroke-linecap="round"/>
<line x1="1357.1" y1="742.5" x2="1370.9" y2="742.5" stroke-width="5.2" stroke-linecap="round"/>
<line x1="1467.1" y1="739.3" x2="1467.1" y2="750.3" stroke-width="5.2" stroke-linecap="round"/>
<line x1="1589" y1="739.3" x2="1589" y2="750.3" stroke-width="5.2" stroke-linecap="round"/>
<line x1="1710.5" y1="739.3" x2="1710.5" y2="750.3" stroke-width="5.2" stroke-linecap="round"/>
<line x1="1831.9" y1="739.3" x2="1831.9" y2="750.3" stroke-width="5.2" stroke-linecap="round"/>
<line x1="1954.2" y1="739.3" x2="1954.2" y2="750.3" stroke-width="5.2" stroke-linecap="round"/>
</g>
<g filter="url(#soft)">
<text transform="translate(1273.8,71.8)" font-family='"Liberation Sans", "DejaVu Sans", sans-serif' font-size="40" fill="#1e1e1e">500</text>
<text transform="translate(1273.8,209.2)" font-family='"Liberation Sans", "DejaVu Sans", sans-serif' font-size="40" fill="#1e1e1e">400</text>
<text transform="translate(1273.8,346.4)" font-family='"Liberation Sans", "DejaVu Sans", sans-serif' font-size="40" fill="#1e1e1e">300</text>
<text transform="translate(1273.8,483.8)" font-family='"Liberation Sans", "DejaVu Sans", sans-serif' font-size="40" fill="#1e1e1e">200</text>
<text transform="translate(1273.8,621)" font-family='"Liberation Sans", "DejaVu Sans", sans-serif' font-size="40" fill="#1e1e1e">100</text>
<text transform="translate(1318.3,757.6)" font-family='"Liberation Sans", "DejaVu Sans", sans-serif' font-size="40" fill="#1e1e1e">0</text>
<text transform="translate(1416.4,790.3)" font-family='"Liberation Sans", "DejaVu Sans", sans-serif' font-size="40" fill="#1e1e1e">-200</text>
<text transform="translate(1537.1,790.3)" font-family='"Liberation Sans", "DejaVu Sans", sans-serif' font-size="40" fill="#1e1e1e">-100</text>
<text transform="translate(1686.8,790.3)" font-family='"Liberation Sans", "DejaVu Sans", sans-serif' font-size="40" fill="#1e1e1e">0</text>
<text transform="translate(1789,790.3)" font-family='"Liberation Sans", "DejaVu Sans", sans-serif' font-size="40" fill="#1e1e1e">100</text>
<text transform="translate(1908.8,790.3)" font-family='"Liberation Sans", "DejaVu Sans", sans-serif' font-size="40" fill="#1e1e1e">200</text>
<g transform="translate(1542.7,894.2)"><text transform="translate(-0.7,0) scale(0.982,1)" font-family='"Liberation Sans", "DejaVu Sans", sans-serif' font-size="55" fill="#1e1e1e">x(m) (x10</text><text transform="translate(232.8,17.8) scale(1.122,1.505)" font-family='"Liberation Sans", "DejaVu Sans", sans-serif' font-size="55" fill="#1e1e1e">^</text><text transform="translate(261.6,0) scale(1.008,1)" font-family='"Liberation Sans", "DejaVu Sans", sans-serif' font-size="55" fill="#1e1e1e">-9)</text></g>
<g transform="translate(1225.3,562.3) rotate(-90)"><text transform="translate(-2.2,0) scale(0.982,1)" font-family='"Liberation Sans", "DejaVu Sans", sans-serif' font-size="55" fill="#1e1e1e">z(m) (x10</text><text transform="translate(231.3,17.8) scale(1.115,1.505)" font-family='"Liberation Sans", "DejaVu Sans", sans-serif' font-size="55" fill="#1e1e1e">^</text><text transform="translate(260,0)" font-family='"Liberation Sans", "DejaVu Sans", sans-serif' font-size="55" fill="#1e1e1e">-9)</text></g>
<text transform="translate(2212.6,63.4)" font-family='"Liberation Sans", "DejaVu Sans", sans-serif' font-size="55" fill="#1e1e1e">425</text>
<text transform="translate(2212.8,177.3)" font-family='"Liberation Sans", "DejaVu Sans", sans-serif' font-size="55" fill="#1e1e1e">106</text>
<text transform="translate(2194.9,294.5)" font-family='"Liberation Sans", "DejaVu Sans", sans-serif' font-size="55" fill="#1e1e1e">26.2</text>
<text transform="translate(2194.9,408.9)" font-family='"Liberation Sans", "DejaVu Sans", sans-serif' font-size="55" fill="#1e1e1e">6.52</text>
<text transform="translate(2195.8,525.9)" font-family='"Liberation Sans", "DejaVu Sans", sans-serif' font-size="55" fill="#1e1e1e">1.62</text>
<text transform="translate(2180,640.3)" font-family='"Liberation Sans", "DejaVu Sans", sans-serif' font-size="55" fill="#1e1e1e">0.402</text>
<text transform="translate(2212,757.5)" font-family='"Liberation Sans", "DejaVu Sans", sans-serif' font-size="55" fill="#1e1e1e">0.1</text>
</g>
<g filter="url(#jetcbB)"><rect x="2077" y="51" width="76.7" height="695.2" fill="url(#cbgB)"/></g>
<g filter="url(#soft)">
<text transform="translate(1362.8,893.6) scale(0.723,0.95)" font-family='"Liberation Serif", "DejaVu Serif", serif' font-size="87" fill="#000">(</text>
<text transform="translate(1387.2,896.8) scale(1.076,1)" font-family='"Liberation Serif", "DejaVu Serif", serif' font-size="78" fill="#000">B</text>
<text transform="translate(1445.6,893.6) scale(0.853,0.95)" font-family='"Liberation Serif", "DejaVu Serif", serif' font-size="87" fill="#000">)</text>
</g>
<path d="M1693.5,76.7 L1766.4,76.7 L1766.4,65.1 L1801.8,82.7 L1766.4,100.3 L1766.4,88.7 L1705.5,88.7 L1705.5,156.3 L1717.2,156.3 L1699.5,192.6 L1681.8,156.3 L1693.5,156.3Z" fill="#fff"/>
<text transform="translate(1631.7,219) scale(0.99,1)" font-family='"Liberation Serif", "DejaVu Serif", serif' font-size="100" fill="#fff">k</text>
<text transform="translate(1795.3,173) scale(1.144,1)" font-family='"Liberation Serif", "DejaVu Serif", serif' font-size="98" fill="#fff">E</text>
<text transform="translate(1420.4,354.8) scale(1.038,1)" font-family='"Liberation Serif", "DejaVu Serif", serif' font-size="64" font-weight="bold" font-style="italic" fill="#000">EF</text>
<text transform="translate(1521.5,354.8) scale(1.277,1)" font-family='"Liberation Serif", "DejaVu Serif", serif' font-size="64" fill="#000" stroke="#000" stroke-width="0.8">=</text>
<text transform="translate(1571.6,354.8) scale(1.04,1)" font-family='"Liberation Serif", "DejaVu Serif", serif' font-size="64" font-weight="bold" fill="#000">1.89</text>
<text transform="translate(1689.5,354.8) scale(1.181,1)" font-family='"Liberation Serif", "DejaVu Serif", serif' font-size="64" fill="#000" stroke="#000" stroke-width="0.8">×</text>
<text transform="translate(1735.1,354.8) scale(0.983,1)" font-family='"Liberation Serif", "DejaVu Serif", serif' font-size="64" font-weight="bold" fill="#000">10</text>
<text transform="translate(1797,321.7) scale(1.305,1)" font-family='"Liberation Serif", "DejaVu Serif", serif' font-size="37" font-weight="bold" fill="#000">6</text>
<line x1="1422" y1="290.9" x2="1509.3" y2="290.9" stroke="#000" stroke-width="3.6"/>
<rect x="1392" y="639.2" width="440.5" height="95.3" fill="#fff"/>
<text transform="translate(1402.4,718.5) scale(1.031,1)" font-family='"Liberation Serif", "DejaVu Serif", serif' font-size="64" font-weight="bold" font-style="italic" fill="#000">EF</text>
<text transform="translate(1503.3,718.5) scale(1.31,1)" font-family='"Liberation Serif", "DejaVu Serif", serif' font-size="64" fill="#000" stroke="#000" stroke-width="0.8">=</text>
<text transform="translate(1556.8,718.5) scale(1.05,1)" font-family='"Liberation Serif", "DejaVu Serif", serif' font-size="64" font-weight="bold" fill="#000">3.25</text>
<text transform="translate(1677.9,718.5) scale(1.181,1)" font-family='"Liberation Serif", "DejaVu Serif", serif' font-size="64" fill="#000" stroke="#000" stroke-width="0.8">×</text>
<text transform="translate(1720.1,718.5) scale(1.027,1)" font-family='"Liberation Serif", "DejaVu Serif", serif' font-size="64" font-weight="bold" fill="#000">10</text>
<text transform="translate(1783.5,686.3) scale(1.072,1)" font-family='"Liberation Serif", "DejaVu Serif", serif' font-size="37" font-weight="bold" fill="#000">10</text>
<line x1="1404" y1="654.5" x2="1491.5" y2="654.5" stroke="#000" stroke-width="3.6"/>
<line x1="1621.2" y1="369.8" x2="1844.7" y2="478.7" stroke="#000" stroke-width="4.2"/><polygon fill="#000" points="1872.4,492.2 1836.1,491.9 1849.7,463.8"/>
<line x1="1731.4" y1="621.4" x2="1857.6" y2="592.7" stroke="#000" stroke-width="4.2"/><polygon fill="#000" points="1885,586.5 1859.1,608.4 1852.2,578"/>
<!-- panel C -->
<g filter="url(#jetC)"><g clip-path="url(#clipC)">
<rect x="192.5" y="997" width="698.5" height="702.5" fill="url(#C0)"/>
<g filter="url(#b28_4)"><path d="M130,990 L270,990 L235,1200 L210,1330 L130,1330Z" fill="url(#C1d)"/><path d="M950,990 L810,990 L848,1200 L872,1330 L950,1330Z" fill="url(#C1d)"/></g>
<g filter="url(#b28_5)"><rect x="335" y="990" width="60" height="330" fill="url(#C1)"/><rect x="695" y="990" width="60" height="330" fill="url(#C1)"/></g>
<g filter="url(#b36_36)"><ellipse cx="345" cy="1470" rx="130" ry="75" fill="#7f7f7f"/><ellipse cx="738" cy="1470" rx="130" ry="75" fill="#7f7f7f"/></g>
<g filter="url(#b22_4)"><path d="M506,1000 L586,1000 L598,1110 L592,1210 L572,1300 L562,1480 L516,1480 L510,1300 L500,1210 L494,1110Z" fill="url(#C2h)"/></g>
<g filter="url(#b10_3)"><path d="M531,1090 L561,1090 L561,1215 L554,1260 L551,1480 L525,1480 L526,1260 L531,1215Z" fill="url(#C2)"/></g>
<g clip-path="url(#cCs)"><g filter="url(#b7_7)"><path d="M130,1508 C141.3,1508.2 167.7,1507.5 198,1509 C228.3,1510.5 279.5,1513 312,1517 C344.5,1521 369.3,1528.2 393,1533 C416.7,1537.8 436.2,1542.2 454,1546 C471.8,1549.8 485.5,1553.7 500,1556 C514.5,1558.3 526,1560 541,1560 C556,1560 574,1558.3 590,1556 C606,1553.7 615.4,1550.5 636.7,1546 C658,1541.5 691,1533.8 718,1529 C745,1524.2 771.3,1520.7 799,1517 C826.7,1513.3 859.2,1508.8 884.4,1507 C909.6,1505.2 939.1,1506.2 950,1506 L950,1760 L130,1760 Z" fill="#5c5c5c"/><path d="M130,1526 C141.3,1526.2 167.7,1525.5 198,1527 C228.3,1528.5 279.5,1531 312,1535 C344.5,1539 369.3,1546.2 393,1551 C416.7,1555.8 436.2,1560.2 454,1564 C471.8,1567.8 485.5,1571.7 500,1574 C514.5,1576.3 526,1578 541,1578 C556,1578 574,1576.3 590,1574 C606,1571.7 615.4,1568.5 636.7,1564 C658,1559.5 691,1551.8 718,1547 C745,1542.2 771.3,1538.7 799,1535 C826.7,1531.3 859.2,1526.8 884.4,1525 C909.6,1523.2 939.1,1524.2 950,1524 L950,1760 L130,1760 Z" fill="#454545"/><path d="M130,1540 C141.3,1540.2 167.7,1539.5 198,1541 C228.3,1542.5 279.5,1545 312,1549 C344.5,1553 369.3,1560.2 393,1565 C416.7,1569.8 436.2,1574.2 454,1578 C471.8,1581.8 485.5,1585.7 500,1588 C514.5,1590.3 526,1592 541,1592 C556,1592 574,1590.3 590,1588 C606,1585.7 615.4,1582.5 636.7,1578 C658,1573.5 691,1565.8 718,1561 C745,1556.2 771.3,1552.7 799,1549 C826.7,1545.3 859.2,1540.8 884.4,1539 C909.6,1537.2 939.1,1538.2 950,1538 L950,1760 L130,1760 Z" fill="#333333"/><path d="M130,1556 C141.3,1556.2 167.7,1555.5 198,1557 C228.3,1558.5 279.5,1561 312,1565 C344.5,1569 369.3,1576.2 393,1581 C416.7,1585.8 436.2,1590.2 454,1594 C471.8,1597.8 485.5,1601.7 500,1604 C514.5,1606.3 526,1608 541,1608 C556,1608 574,1606.3 590,1604 C606,1601.7 615.4,1598.5 636.7,1594 C658,1589.5 691,1581.8 718,1577 C745,1572.2 771.3,1568.7 799,1565 C826.7,1561.3 859.2,1556.8 884.4,1555 C909.6,1553.2 939.1,1554.2 950,1554 L950,1760 L130,1760 Z" fill="#242424"/><path d="M130,1574 C141.3,1574.2 167.7,1573.5 198,1575 C228.3,1576.5 279.5,1579 312,1583 C344.5,1587 369.3,1594.2 393,1599 C416.7,1603.8 436.2,1608.2 454,1612 C471.8,1615.8 485.5,1619.7 500,1622 C514.5,1624.3 526,1626 541,1626 C556,1626 574,1624.3 590,1622 C606,1619.7 615.4,1616.5 636.7,1612 C658,1607.5 691,1599.8 718,1595 C745,1590.2 771.3,1586.7 799,1583 C826.7,1579.3 859.2,1574.8 884.4,1573 C909.6,1571.2 939.1,1572.2 950,1572 L950,1760 L130,1760 Z" fill="#171717"/><path d="M130,1594 C141.3,1594.2 167.7,1593.5 198,1595 C228.3,1596.5 279.5,1599 312,1603 C344.5,1607 369.3,1614.2 393,1619 C416.7,1623.8 436.2,1628.2 454,1632 C471.8,1635.8 485.5,1639.7 500,1642 C514.5,1644.3 526,1646 541,1646 C556,1646 574,1644.3 590,1642 C606,1639.7 615.4,1636.5 636.7,1632 C658,1627.5 691,1619.8 718,1615 C745,1610.2 771.3,1606.7 799,1603 C826.7,1599.3 859.2,1594.8 884.4,1593 C909.6,1591.2 939.1,1592.2 950,1592 L950,1760 L130,1760 Z" fill="#0a0a0a"/><path d="M130,1614 C141.3,1614.2 167.7,1613.5 198,1615 C228.3,1616.5 279.5,1619 312,1623 C344.5,1627 369.3,1634.2 393,1639 C416.7,1643.8 436.2,1648.2 454,1652 C471.8,1655.8 485.5,1659.7 500,1662 C514.5,1664.3 526,1666 541,1666 C556,1666 574,1664.3 590,1662 C606,1659.7 615.4,1656.5 636.7,1652 C658,1647.5 691,1639.8 718,1635 C745,1630.2 771.3,1626.7 799,1623 C826.7,1619.3 859.2,1614.8 884.4,1613 C909.6,1611.2 939.1,1612.2 950,1612 L950,1760 L130,1760 Z" fill="#000000"/><ellipse cx="540" cy="1588" rx="72" ry="24" fill="#6b6b6b"/></g></g>
<g filter="url(#b8_8)"><ellipse cx="540" cy="1524" rx="104" ry="50" fill="#878787"/></g>
<g filter="url(#b4_4)"><path d="M452,1568 L445,1552 L462,1518 L480,1488 L510,1474 L570,1474 L600,1488 L618,1518 L635,1552 L628,1568 L540,1578Z" fill="#999999"/></g>
<g filter="url(#b2p2_2p2)"><path d="M449,1556 L462,1526 L478,1553Z" fill="#b2b2b2"/><path d="M631,1556 L617,1528 L602,1556Z" fill="#b2b2b2"/></g>
<g filter="url(#b2p5_2p5)"><path d="M482,1556 Q503,1562 524,1556 M556,1556 Q578,1562 600,1555 Q610,1548 616,1538" fill="none" stroke="#a3a3a3" stroke-width="22" stroke-linecap="round"/></g>
<g filter="url(#b1p8_1p8)"><path d="M476,1558 Q503,1567 522,1561 M558,1561 Q580,1567 601,1557 Q609,1551 613,1543" fill="none" stroke="#ededed" stroke-width="7.5" stroke-linecap="round"/></g>
<g filter="url(#b1p5_1p5)"><ellipse cx="540" cy="1558" rx="13" ry="4.5" fill="#666666"/></g>
<g filter="url(#b1p5_1p5)"><path d="M508,1480.5 L572,1480.5 L560,1500 L556,1552 L524,1552 L520,1500Z" fill="#a4a4a4"/></g>
<g filter="url(#b2p5_2p5)"><path d="M522,1489 L558,1489 L547,1504 L546,1548 L534,1548 L533,1504Z" fill="#bdbdbd"/></g>
<g filter="url(#b2_2)"><path d="M534,1497 L546,1497 L543.5,1520 L545,1547 L535,1547 L536.5,1520Z" fill="#ebebeb"/></g>
<ellipse cx="496.8" cy="1515.5" rx="31.2" ry="32" fill="url(#C5)"/>
<ellipse cx="582.2" cy="1515.5" rx="31.2" ry="32" fill="url(#C5)"/>
</g></g>
<g stroke="#000" fill="none" filter="url(#soft2)">
<line x1="195" y1="1003" x2="195" y2="1697.8" stroke-width="7.5"/>
<line x1="191.2" y1="1694" x2="886" y2="1694" stroke-width="7.5"/>
<line x1="187.7" y1="1054.7" x2="201.5" y2="1054.7" stroke-width="5.2" stroke-linecap="round"/>
<line x1="187.7" y1="1182.8" x2="201.5" y2="1182.8" stroke-width="5.2" stroke-linecap="round"/>
<line x1="187.7" y1="1310.6" x2="201.5" y2="1310.6" stroke-width="5.2" stroke-linecap="round"/>
<line x1="187.7" y1="1438.4" x2="201.5" y2="1438.4" stroke-width="5.2" stroke-linecap="round"/>
<line x1="187.7" y1="1566" x2="201.5" y2="1566" stroke-width="5.2" stroke-linecap="round"/>
<line x1="187.7" y1="1693.7" x2="201.5" y2="1693.7" stroke-width="5.2" stroke-linecap="round"/>
<line x1="297.2" y1="1691" x2="297.2" y2="1702" stroke-width="5.2" stroke-linecap="round"/>
<line x1="418" y1="1691" x2="418" y2="1702" stroke-width="5.2" stroke-linecap="round"/>
<line x1="540" y1="1691" x2="540" y2="1702" stroke-width="5.2" stroke-linecap="round"/>
<line x1="661.3" y1="1691" x2="661.3" y2="1702" stroke-width="5.2" stroke-linecap="round"/>
<line x1="781.9" y1="1691" x2="781.9" y2="1702" stroke-width="5.2" stroke-linecap="round"/>
</g>
<g filter="url(#soft)">
<text transform="translate(104.5,1069.9)" font-family='"Liberation Sans", "DejaVu Sans", sans-serif' font-size="40" fill="#1e1e1e">500</text>
<text transform="translate(104.5,1198)" font-family='"Liberation Sans", "DejaVu Sans", sans-serif' font-size="40" fill="#1e1e1e">400</text>
<text transform="translate(104.5,1325.8)" font-family='"Liberation Sans", "DejaVu Sans", sans-serif' font-size="40" fill="#1e1e1e">300</text>
<text transform="translate(104.5,1453.6)" font-family='"Liberation Sans", "DejaVu Sans", sans-serif' font-size="40" fill="#1e1e1e">200</text>
<text transform="translate(104.5,1581.2)" font-family='"Liberation Sans", "DejaVu Sans", sans-serif' font-size="40" fill="#1e1e1e">100</text>
<text transform="translate(149,1708.9)" font-family='"Liberation Sans", "DejaVu Sans", sans-serif' font-size="40" fill="#1e1e1e">0</text>
<text transform="translate(246.4,1741.8)" font-family='"Liberation Sans", "DejaVu Sans", sans-serif' font-size="40" fill="#1e1e1e">-200</text>
<text transform="translate(366,1741.8)" font-family='"Liberation Sans", "DejaVu Sans", sans-serif' font-size="40" fill="#1e1e1e">-100</text>
<text transform="translate(516.2,1741.8)" font-family='"Liberation Sans", "DejaVu Sans", sans-serif' font-size="40" fill="#1e1e1e">0</text>
<text transform="translate(618.4,1741.8)" font-family='"Liberation Sans", "DejaVu Sans", sans-serif' font-size="40" fill="#1e1e1e">100</text>
<text transform="translate(736.5,1741.8)" font-family='"Liberation Sans", "DejaVu Sans", sans-serif' font-size="40" fill="#1e1e1e">200</text>
<g transform="translate(370.6,1845.8)"><text transform="translate(-0.7,0) scale(0.98,1)" font-family='"Liberation Sans", "DejaVu Sans", sans-serif' font-size="55" fill="#1e1e1e">x(m) (x10</text><text transform="translate(232.5,17.8) scale(1.12,1.505)" font-family='"Liberation Sans", "DejaVu Sans", sans-serif' font-size="55" fill="#1e1e1e">^</text><text transform="translate(261.2,0) scale(1.007,1)" font-family='"Liberation Sans", "DejaVu Sans", sans-serif' font-size="55" fill="#1e1e1e">-9)</text></g>
<g transform="translate(55.8,1513.5) rotate(-90)"><text transform="translate(-2.1,0) scale(0.975,1)" font-family='"Liberation Sans", "DejaVu Sans", sans-serif' font-size="55" fill="#1e1e1e">z(m) (x10</text><text transform="translate(229.8,17.8) scale(1.107,1.505)" font-family='"Liberation Sans", "DejaVu Sans", sans-serif' font-size="55" fill="#1e1e1e">^</text><text transform="translate(258.2,0) scale(0.995,1)" font-family='"Liberation Sans", "DejaVu Sans", sans-serif' font-size="55" fill="#1e1e1e">-9)</text></g>
<text transform="translate(1041.6,1007.6)" font-family='"Liberation Sans", "DejaVu Sans", sans-serif' font-size="55" fill="#1e1e1e">241</text>
<text transform="translate(1026.8,1124.5)" font-family='"Liberation Sans", "DejaVu Sans", sans-serif' font-size="55" fill="#1e1e1e">65.8</text>
<text transform="translate(1058.2,1241.7)" font-family='"Liberation Sans", "DejaVu Sans", sans-serif' font-size="55" fill="#1e1e1e">18</text>
<text transform="translate(1027.7,1358.9)" font-family='"Liberation Sans", "DejaVu Sans", sans-serif' font-size="55" fill="#1e1e1e">4.91</text>
<text transform="translate(1027.8,1475.9)" font-family='"Liberation Sans", "DejaVu Sans", sans-serif' font-size="55" fill="#1e1e1e">1.34</text>
<text transform="translate(1011,1592.5)" font-family='"Liberation Sans", "DejaVu Sans", sans-serif' font-size="55" fill="#1e1e1e">0.366</text>
<text transform="translate(1041.8,1708.9)" font-family='"Liberation Sans", "DejaVu Sans", sans-serif' font-size="55" fill="#1e1e1e">0.1</text>
</g>
<g filter="url(#jetcbC)"><rect x="908.3" y="996" width="75.1" height="701.7" fill="url(#cbgC)"/></g>
<g filter="url(#soft)">
<text transform="translate(219.8,1861.8) scale(0.839,0.941)" font-family='"Liberation Serif", "DejaVu Serif", serif' font-size="87" fill="#000">(</text>
<text transform="translate(246.3,1865.3) scale(1.021,1)" font-family='"Liberation Serif", "DejaVu Serif", serif' font-size="78" fill="#000">C</text>
<text transform="translate(303.1,1861.8) scale(0.848,0.941)" font-family='"Liberation Serif", "DejaVu Serif", serif' font-size="87" fill="#000">)</text>
</g>
<path d="M552.9,1032.3 L625.6,1032.3 L625.6,1020.4 L661,1038.3 L625.6,1056.1 L625.6,1044.3 L564.9,1044.3 L564.9,1111 L576.8,1111 L558.9,1146.8 L541,1111 L552.9,1111Z" fill="#fff"/>
<text transform="translate(492,1173.3) scale(0.987,1)" font-family='"Liberation Serif", "DejaVu Serif", serif' font-size="100" fill="#fff">k</text>
<text transform="translate(654.6,1127.2) scale(1.144,1)" font-family='"Liberation Serif", "DejaVu Serif", serif' font-size="98" fill="#fff">E</text>
<text transform="translate(342.9,1294.8) scale(1.107,1)" font-family='"Liberation Serif", "DejaVu Serif", serif' font-size="64" font-style="italic" fill="#000" stroke="#000" stroke-width="1.1">EF</text>
<text transform="translate(442.5,1294.8) scale(1.267,1)" font-family='"Liberation Serif", "DejaVu Serif", serif' font-size="64" fill="#000" stroke="#000" stroke-width="0.8">=</text>
<text transform="translate(495.8,1294.8) scale(1.062,1)" font-family='"Liberation Serif", "DejaVu Serif", serif' font-size="64" fill="#000" stroke="#000" stroke-width="1.1">3.35</text>
<text transform="translate(615.4,1294.8) scale(1.169,1)" font-family='"Liberation Serif", "DejaVu Serif", serif' font-size="64" fill="#000" stroke="#000" stroke-width="0.8">×</text>
<text transform="translate(659.4,1294.8) scale(1.046,1)" font-family='"Liberation Serif", "DejaVu Serif", serif' font-size="64" fill="#000" stroke="#000" stroke-width="1.1">10</text>
<text transform="translate(724.6,1265.9) scale(1.125,1)" font-family='"Liberation Serif", "DejaVu Serif", serif' font-size="37" fill="#000" stroke="#000" stroke-width="1.1">9</text>
<line x1="343.4" y1="1233" x2="431.3" y2="1233" stroke="#000" stroke-width="3.6"/>
<rect x="215.7" y="1592" width="423.7" height="94.7" fill="#fff"/>
<text transform="translate(226.7,1670.7) scale(1.045,1)" font-family='"Liberation Serif", "DejaVu Serif", serif' font-size="64" font-weight="bold" font-style="italic" fill="#000">EF</text>
<text transform="translate(327,1670.7) scale(1.31,1)" font-family='"Liberation Serif", "DejaVu Serif", serif' font-size="64" fill="#000" stroke="#000" stroke-width="0.8">=</text>
<text transform="translate(381.5,1670.7) scale(1.061,1)" font-family='"Liberation Serif", "DejaVu Serif", serif' font-size="64" font-weight="bold" fill="#000">7.92</text>
<text transform="translate(504.1,1670.7) scale(1.157,1)" font-family='"Liberation Serif", "DejaVu Serif", serif' font-size="64" fill="#000" stroke="#000" stroke-width="0.8">×</text>
<text transform="translate(547,1670.7) scale(0.986,1)" font-family='"Liberation Serif", "DejaVu Serif", serif' font-size="64" font-weight="bold" fill="#000">10</text>
<text transform="translate(613,1637.4) scale(1.087,1)" font-family='"Liberation Serif", "DejaVu Serif", serif' font-size="37" font-weight="bold" fill="#000">8</text>
<line x1="228" y1="1607.3" x2="315.4" y2="1607.3" stroke="#000" stroke-width="3.6"/>
<line x1="543.5" y1="1296" x2="543.5" y2="1448" stroke="#000" stroke-width="4.2"/><polygon fill="#000" points="543.5,1478 527,1446 560,1446"/>
<line x1="462" y1="1584" x2="468.9" y2="1570.5" stroke="#000" stroke-width="4.6"/><polygon fill="#000" points="481.4,1545.8 481.5,1579.2 454.4,1565.4"/>
<!-- panel D -->
<g filter="url(#jetD)"><g clip-path="url(#clipD)">
<rect x="1365.5" y="996" width="713.5" height="715" fill="url(#D0)"/>
<rect x="1365.5" y="995" width="713.5" height="25" fill="url(#D1)"/>
<rect x="1365.5" y="1269" width="713.5" height="36.5" fill="url(#D2)"/>
<rect x="1365.5" y="1310.5" width="713.5" height="28.5" fill="url(#D3)"/>
<rect x="1365.5" y="1343.5" width="713.5" height="24.5" fill="url(#D4)"/>
<rect x="1365.5" y="1372.5" width="713.5" height="18.5" fill="url(#D4b)"/>
<g filter="url(#b6_7)"><ellipse cx="1721" cy="1436" rx="14" ry="22" fill="#626262"/></g>
<g filter="url(#b3p5_4p5)"><ellipse cx="1721" cy="1438" rx="4.5" ry="9" fill="#454545"/></g>
<g filter="url(#b4p5_4p5)"><ellipse cx="1721" cy="1503" rx="53" ry="53" fill="#8c8c8c"/><path d="M1654,1537 L1788,1537 L1770,1500 L1672,1500Z" fill="#8f8f8f"/><ellipse cx="1721" cy="1538" rx="50" ry="27" fill="#8f8f8f"/></g>
<g filter="url(#b3p5_3p5)"><ellipse cx="1721" cy="1504.5" rx="46" ry="46" fill="#a3a3a3"/><ellipse cx="1721" cy="1538" rx="40" ry="17" fill="#a3a3a3"/></g>
<g filter="url(#b3p5_3p5)"><path d="M1759.1,1513.2 L1757.2,1516.8 L1755.1,1520.2 L1752.6,1523.4 L1749.8,1526.3 L1746.8,1528.9 L1743.6,1531.3 L1740.1,1533.3 L1736.5,1535 L1732.8,1536.3 L1728.9,1537.2 L1725,1537.8 L1721,1538 L1717,1537.8 L1713.1,1537.2 L1709.2,1536.3 L1705.5,1535 L1701.9,1533.3 L1698.4,1531.3 L1695.2,1528.9 L1692.2,1526.3 L1689.4,1523.4 L1686.9,1520.2 L1684.8,1516.8 L1682.9,1513.2" fill="none" stroke="#c2c2c2" stroke-width="11" stroke-linecap="round"/></g>
<g filter="url(#b2p8_2p8)"><path d="M1749.3,1525 L1747.4,1526.8 L1745.4,1528.5 L1743.2,1530.1 L1741,1531.5 L1738.7,1532.8 L1736.3,1533.9 L1733.9,1534.8 L1731.4,1535.6 L1728.8,1536.2 L1726.2,1536.6 L1723.6,1536.9 L1721,1537 L1718.4,1536.9 L1715.8,1536.6 L1713.2,1536.2 L1710.6,1535.6 L1708.1,1534.8 L1705.7,1533.9 L1703.3,1532.8 L1701,1531.5 L1698.8,1530.1 L1696.6,1528.5 L1694.6,1526.8 L1692.7,1525" fill="none" stroke="#e6e6e6" stroke-width="8" stroke-linecap="round"/></g>
<g filter="url(#b2_2)"><ellipse cx="1709" cy="1535.5" rx="6" ry="2.5" fill="#fafafa"/><ellipse cx="1733" cy="1535.5" rx="6" ry="2.5" fill="#fafafa"/></g>
<ellipse cx="1721" cy="1493.5" rx="36.8" ry="40" fill="url(#D5)"/>
</g></g>
<g stroke="#000" fill="none" filter="url(#soft2)">
<line x1="1367.5" y1="1002" x2="1367.5" y2="1709.2" stroke-width="7.5"/>
<line x1="1363.8" y1="1705.5" x2="2074" y2="1705.5" stroke-width="7.5"/>
<line x1="1360.2" y1="1010" x2="1374" y2="1010" stroke-width="5.2" stroke-linecap="round"/>
<line x1="1360.2" y1="1149" x2="1374" y2="1149" stroke-width="5.2" stroke-linecap="round"/>
<line x1="1360.2" y1="1288.5" x2="1374" y2="1288.5" stroke-width="5.2" stroke-linecap="round"/>
<line x1="1360.2" y1="1427.3" x2="1374" y2="1427.3" stroke-width="5.2" stroke-linecap="round"/>
<line x1="1360.2" y1="1566.3" x2="1374" y2="1566.3" stroke-width="5.2" stroke-linecap="round"/>
<line x1="1360.2" y1="1704.8" x2="1374" y2="1704.8" stroke-width="5.2" stroke-linecap="round"/>
<line x1="1473.8" y1="1702.5" x2="1473.8" y2="1713.5" stroke-width="5.2" stroke-linecap="round"/>
<line x1="1597.4" y1="1702.5" x2="1597.4" y2="1713.5" stroke-width="5.2" stroke-linecap="round"/>
<line x1="1720.2" y1="1702.5" x2="1720.2" y2="1713.5" stroke-width="5.2" stroke-linecap="round"/>
<line x1="1844.5" y1="1702.5" x2="1844.5" y2="1713.5" stroke-width="5.2" stroke-linecap="round"/>
<line x1="1968.1" y1="1702.5" x2="1968.1" y2="1713.5" stroke-width="5.2" stroke-linecap="round"/>
</g>
<g filter="url(#soft)">
<text transform="translate(1278.3,1025.2)" font-family='"Liberation Sans", "DejaVu Sans", sans-serif' font-size="40" fill="#1e1e1e">500</text>
<text transform="translate(1278.3,1164.2)" font-family='"Liberation Sans", "DejaVu Sans", sans-serif' font-size="40" fill="#1e1e1e">400</text>
<text transform="translate(1278.3,1303.7)" font-family='"Liberation Sans", "DejaVu Sans", sans-serif' font-size="40" fill="#1e1e1e">300</text>
<text transform="translate(1278.3,1442.5)" font-family='"Liberation Sans", "DejaVu Sans", sans-serif' font-size="40" fill="#1e1e1e">200</text>
<text transform="translate(1278.3,1581.5)" font-family='"Liberation Sans", "DejaVu Sans", sans-serif' font-size="40" fill="#1e1e1e">100</text>
<text transform="translate(1322.8,1720)" font-family='"Liberation Sans", "DejaVu Sans", sans-serif' font-size="40" fill="#1e1e1e">0</text>
<text transform="translate(1423.1,1754.3)" font-family='"Liberation Sans", "DejaVu Sans", sans-serif' font-size="40" fill="#1e1e1e">-200</text>
<text transform="translate(1545.5,1754.3)" font-family='"Liberation Sans", "DejaVu Sans", sans-serif' font-size="40" fill="#1e1e1e">-100</text>
<text transform="translate(1696.5,1754.3)" font-family='"Liberation Sans", "DejaVu Sans", sans-serif' font-size="40" fill="#1e1e1e">0</text>
<text transform="translate(1801.6,1754.3)" font-family='"Liberation Sans", "DejaVu Sans", sans-serif' font-size="40" fill="#1e1e1e">100</text>
<text transform="translate(1922.7,1754.3)" font-family='"Liberation Sans", "DejaVu Sans", sans-serif' font-size="40" fill="#1e1e1e">200</text>
<g transform="translate(1549.3,1860.3)"><text transform="translate(-0.7,0)" font-family='"Liberation Sans", "DejaVu Sans", sans-serif' font-size="55" fill="#1e1e1e">x(m) (x10</text><text transform="translate(236.9,17.8) scale(1.141,1.505)" font-family='"Liberation Sans", "DejaVu Sans", sans-serif' font-size="55" fill="#1e1e1e">^</text><text transform="translate(266.2,0) scale(1.026,1)" font-family='"Liberation Sans", "DejaVu Sans", sans-serif' font-size="55" fill="#1e1e1e">-9)</text></g>
<g transform="translate(1227.4,1521.2) rotate(-90)"><text transform="translate(-2.2,0) scale(0.995,1)" font-family='"Liberation Sans", "DejaVu Sans", sans-serif' font-size="55" fill="#1e1e1e">z(m) (x10</text><text transform="translate(234.5,17.8) scale(1.13,1.505)" font-family='"Liberation Sans", "DejaVu Sans", sans-serif' font-size="55" fill="#1e1e1e">^</text><text transform="translate(263.5,0) scale(1.015,1)" font-family='"Liberation Sans", "DejaVu Sans", sans-serif' font-size="55" fill="#1e1e1e">-9)</text></g>
<text transform="translate(2240.3,1005.2)" font-family='"Liberation Sans", "DejaVu Sans", sans-serif' font-size="55" fill="#1e1e1e">89</text>
<text transform="translate(2208.3,1124.5)" font-family='"Liberation Sans", "DejaVu Sans", sans-serif' font-size="55" fill="#1e1e1e">28.7</text>
<text transform="translate(2208.1,1240.3)" font-family='"Liberation Sans", "DejaVu Sans", sans-serif' font-size="55" fill="#1e1e1e">9.25</text>
<text transform="translate(2208.1,1358.9)" font-family='"Liberation Sans", "DejaVu Sans", sans-serif' font-size="55" fill="#1e1e1e">2.98</text>
<text transform="translate(2192.6,1478.1)" font-family='"Liberation Sans", "DejaVu Sans", sans-serif' font-size="55" fill="#1e1e1e">0.962</text>
<text transform="translate(2208.5,1593.9)" font-family='"Liberation Sans", "DejaVu Sans", sans-serif' font-size="55" fill="#1e1e1e">0.31</text>
<text transform="translate(2223.8,1712.5)" font-family='"Liberation Sans", "DejaVu Sans", sans-serif' font-size="55" fill="#1e1e1e">0.1</text>
</g>
<g filter="url(#jetcbD)"><rect x="2092.8" y="993.5" width="70.5" height="708.9" fill="url(#cbgD)"/></g>
<g filter="url(#soft)">
<text transform="translate(1335.8,1861.8) scale(0.844,0.944)" font-family='"Liberation Serif", "DejaVu Serif", serif' font-size="87" fill="#000">(</text>
<text transform="translate(1360.9,1864.9) scale(1.082,1)" font-family='"Liberation Serif", "DejaVu Serif", serif' font-size="78" fill="#000">D</text>
<text transform="translate(1423.3,1861.8) scale(0.844,0.944)" font-family='"Liberation Serif", "DejaVu Serif", serif' font-size="87" fill="#000">)</text>
</g>
<path d="M1702,1029.5 L1774,1029.5 L1774,1017.6 L1808.8,1035.5 L1774,1053.3 L1774,1041.5 L1714,1041.5 L1714,1109.6 L1725.4,1109.6 L1708,1144 L1690.6,1109.6 L1702,1109.6Z" fill="#fff"/>
<text transform="translate(1640,1172) scale(0.99,1)" font-family='"Liberation Serif", "DejaVu Serif", serif' font-size="100" fill="#fff">k</text>
<text transform="translate(1803.8,1125.3) scale(1.129,1)" font-family='"Liberation Serif", "DejaVu Serif", serif' font-size="98" fill="#fff">E</text>
<rect x="1392" y="1584.8" width="429.6" height="94.7" fill="#fff"/>
<text transform="translate(1402.4,1662.5) scale(1.031,1)" font-family='"Liberation Serif", "DejaVu Serif", serif' font-size="64" font-weight="bold" font-style="italic" fill="#000">EF</text>
<text transform="translate(1504,1662.5) scale(1.21,1)" font-family='"Liberation Serif", "DejaVu Serif", serif' font-size="64" fill="#000" stroke="#000" stroke-width="0.8">=</text>
<text transform="translate(1559.2,1662.5) scale(1.041,1)" font-family='"Liberation Serif", "DejaVu Serif", serif' font-size="64" font-weight="bold" fill="#000">6.47</text>
<text transform="translate(1680.2,1662.5) scale(1.138,1)" font-family='"Liberation Serif", "DejaVu Serif", serif' font-size="64" fill="#000" stroke="#000" stroke-width="0.8">×</text>
<text transform="translate(1723.4,1662.5) scale(1.045,1)" font-family='"Liberation Serif", "DejaVu Serif", serif' font-size="64" font-weight="bold" fill="#000">10</text>
<text transform="translate(1787.5,1633.1) scale(1.133,1)" font-family='"Liberation Serif", "DejaVu Serif", serif' font-size="37" font-weight="bold" fill="#000">7</text>
<line x1="1403.6" y1="1601.2" x2="1491.5" y2="1601.2" stroke="#000" stroke-width="3.6"/>
<line x1="1565.3" y1="1577.6" x2="1666" y2="1540.4" stroke="#000" stroke-width="4.2"/><polygon fill="#000" points="1695.1,1529.6 1669.5,1555.6 1658.8,1526.5"/>
</svg></body></html>
